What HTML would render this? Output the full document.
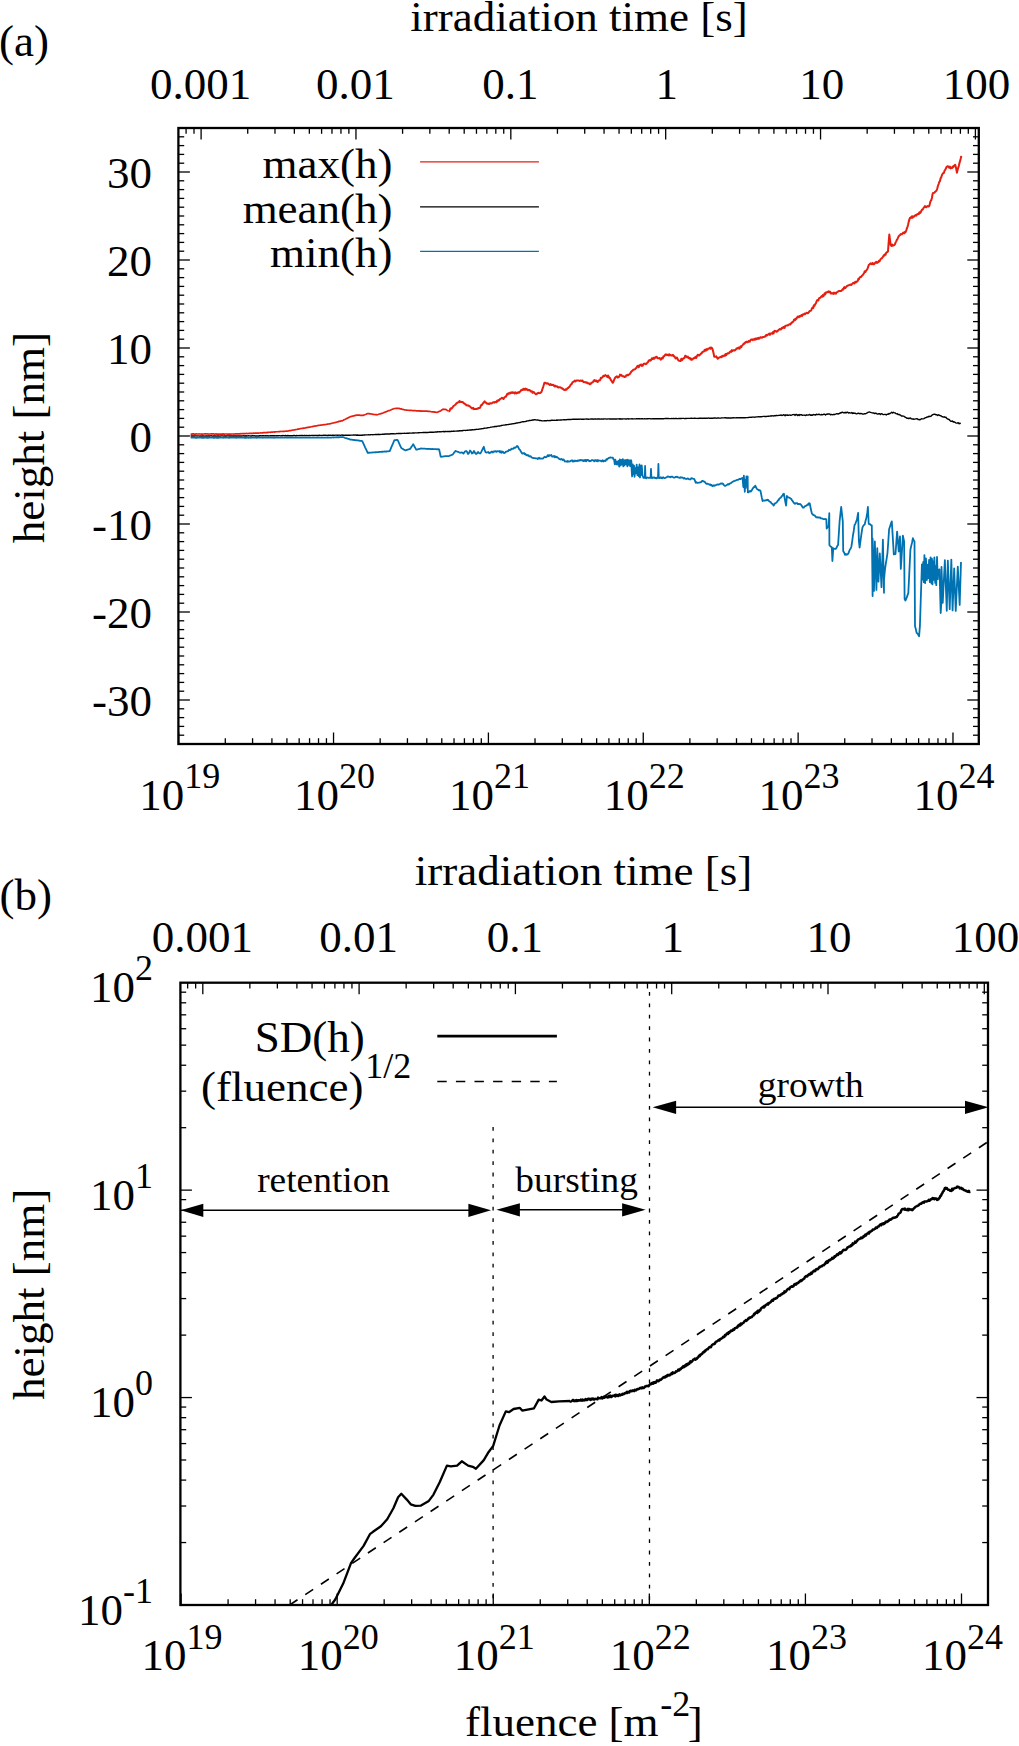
<!DOCTYPE html><html><head><meta charset="utf-8"><style>html,body{margin:0;padding:0;background:#fff;width:1019px;height:1746px;overflow:hidden}svg{display:block}</style></head><body><svg width="1019" height="1746" viewBox="0 0 1019 1746" font-family="'Liberation Serif', serif">
<rect width="1019" height="1746" fill="#fff"/>
<line x1="178.68" y1="744.00" x2="178.68" y2="732.50" stroke="#000" stroke-width="1.3" />
<line x1="225.30" y1="744.00" x2="225.30" y2="738.20" stroke="#000" stroke-width="1.3" />
<line x1="252.57" y1="744.00" x2="252.57" y2="738.20" stroke="#000" stroke-width="1.3" />
<line x1="271.92" y1="744.00" x2="271.92" y2="738.20" stroke="#000" stroke-width="1.3" />
<line x1="286.92" y1="744.00" x2="286.92" y2="738.20" stroke="#000" stroke-width="1.3" />
<line x1="299.18" y1="744.00" x2="299.18" y2="738.20" stroke="#000" stroke-width="1.3" />
<line x1="309.55" y1="744.00" x2="309.55" y2="738.20" stroke="#000" stroke-width="1.3" />
<line x1="318.53" y1="744.00" x2="318.53" y2="738.20" stroke="#000" stroke-width="1.3" />
<line x1="326.45" y1="744.00" x2="326.45" y2="738.20" stroke="#000" stroke-width="1.3" />
<line x1="333.54" y1="744.00" x2="333.54" y2="732.50" stroke="#000" stroke-width="1.3" />
<line x1="380.16" y1="744.00" x2="380.16" y2="738.20" stroke="#000" stroke-width="1.3" />
<line x1="407.43" y1="744.00" x2="407.43" y2="738.20" stroke="#000" stroke-width="1.3" />
<line x1="426.78" y1="744.00" x2="426.78" y2="738.20" stroke="#000" stroke-width="1.3" />
<line x1="441.78" y1="744.00" x2="441.78" y2="738.20" stroke="#000" stroke-width="1.3" />
<line x1="454.04" y1="744.00" x2="454.04" y2="738.20" stroke="#000" stroke-width="1.3" />
<line x1="464.41" y1="744.00" x2="464.41" y2="738.20" stroke="#000" stroke-width="1.3" />
<line x1="473.39" y1="744.00" x2="473.39" y2="738.20" stroke="#000" stroke-width="1.3" />
<line x1="481.31" y1="744.00" x2="481.31" y2="738.20" stroke="#000" stroke-width="1.3" />
<line x1="488.40" y1="744.00" x2="488.40" y2="732.50" stroke="#000" stroke-width="1.3" />
<line x1="535.02" y1="744.00" x2="535.02" y2="738.20" stroke="#000" stroke-width="1.3" />
<line x1="562.29" y1="744.00" x2="562.29" y2="738.20" stroke="#000" stroke-width="1.3" />
<line x1="581.64" y1="744.00" x2="581.64" y2="738.20" stroke="#000" stroke-width="1.3" />
<line x1="596.64" y1="744.00" x2="596.64" y2="738.20" stroke="#000" stroke-width="1.3" />
<line x1="608.90" y1="744.00" x2="608.90" y2="738.20" stroke="#000" stroke-width="1.3" />
<line x1="619.27" y1="744.00" x2="619.27" y2="738.20" stroke="#000" stroke-width="1.3" />
<line x1="628.25" y1="744.00" x2="628.25" y2="738.20" stroke="#000" stroke-width="1.3" />
<line x1="636.17" y1="744.00" x2="636.17" y2="738.20" stroke="#000" stroke-width="1.3" />
<line x1="643.26" y1="744.00" x2="643.26" y2="732.50" stroke="#000" stroke-width="1.3" />
<line x1="689.88" y1="744.00" x2="689.88" y2="738.20" stroke="#000" stroke-width="1.3" />
<line x1="717.15" y1="744.00" x2="717.15" y2="738.20" stroke="#000" stroke-width="1.3" />
<line x1="736.50" y1="744.00" x2="736.50" y2="738.20" stroke="#000" stroke-width="1.3" />
<line x1="751.50" y1="744.00" x2="751.50" y2="738.20" stroke="#000" stroke-width="1.3" />
<line x1="763.76" y1="744.00" x2="763.76" y2="738.20" stroke="#000" stroke-width="1.3" />
<line x1="774.13" y1="744.00" x2="774.13" y2="738.20" stroke="#000" stroke-width="1.3" />
<line x1="783.11" y1="744.00" x2="783.11" y2="738.20" stroke="#000" stroke-width="1.3" />
<line x1="791.03" y1="744.00" x2="791.03" y2="738.20" stroke="#000" stroke-width="1.3" />
<line x1="798.12" y1="744.00" x2="798.12" y2="732.50" stroke="#000" stroke-width="1.3" />
<line x1="844.74" y1="744.00" x2="844.74" y2="738.20" stroke="#000" stroke-width="1.3" />
<line x1="872.01" y1="744.00" x2="872.01" y2="738.20" stroke="#000" stroke-width="1.3" />
<line x1="891.36" y1="744.00" x2="891.36" y2="738.20" stroke="#000" stroke-width="1.3" />
<line x1="906.36" y1="744.00" x2="906.36" y2="738.20" stroke="#000" stroke-width="1.3" />
<line x1="918.62" y1="744.00" x2="918.62" y2="738.20" stroke="#000" stroke-width="1.3" />
<line x1="928.99" y1="744.00" x2="928.99" y2="738.20" stroke="#000" stroke-width="1.3" />
<line x1="937.97" y1="744.00" x2="937.97" y2="738.20" stroke="#000" stroke-width="1.3" />
<line x1="945.89" y1="744.00" x2="945.89" y2="738.20" stroke="#000" stroke-width="1.3" />
<line x1="952.98" y1="744.00" x2="952.98" y2="732.50" stroke="#000" stroke-width="1.3" />
<line x1="186.09" y1="128.00" x2="186.09" y2="133.80" stroke="#000" stroke-width="1.3" />
<line x1="194.01" y1="128.00" x2="194.01" y2="133.80" stroke="#000" stroke-width="1.3" />
<line x1="201.10" y1="128.00" x2="201.10" y2="139.50" stroke="#000" stroke-width="1.3" />
<line x1="247.72" y1="128.00" x2="247.72" y2="133.80" stroke="#000" stroke-width="1.3" />
<line x1="274.99" y1="128.00" x2="274.99" y2="133.80" stroke="#000" stroke-width="1.3" />
<line x1="294.34" y1="128.00" x2="294.34" y2="133.80" stroke="#000" stroke-width="1.3" />
<line x1="309.34" y1="128.00" x2="309.34" y2="133.80" stroke="#000" stroke-width="1.3" />
<line x1="321.60" y1="128.00" x2="321.60" y2="133.80" stroke="#000" stroke-width="1.3" />
<line x1="331.97" y1="128.00" x2="331.97" y2="133.80" stroke="#000" stroke-width="1.3" />
<line x1="340.95" y1="128.00" x2="340.95" y2="133.80" stroke="#000" stroke-width="1.3" />
<line x1="348.87" y1="128.00" x2="348.87" y2="133.80" stroke="#000" stroke-width="1.3" />
<line x1="355.96" y1="128.00" x2="355.96" y2="139.50" stroke="#000" stroke-width="1.3" />
<line x1="402.58" y1="128.00" x2="402.58" y2="133.80" stroke="#000" stroke-width="1.3" />
<line x1="429.85" y1="128.00" x2="429.85" y2="133.80" stroke="#000" stroke-width="1.3" />
<line x1="449.20" y1="128.00" x2="449.20" y2="133.80" stroke="#000" stroke-width="1.3" />
<line x1="464.20" y1="128.00" x2="464.20" y2="133.80" stroke="#000" stroke-width="1.3" />
<line x1="476.46" y1="128.00" x2="476.46" y2="133.80" stroke="#000" stroke-width="1.3" />
<line x1="486.83" y1="128.00" x2="486.83" y2="133.80" stroke="#000" stroke-width="1.3" />
<line x1="495.81" y1="128.00" x2="495.81" y2="133.80" stroke="#000" stroke-width="1.3" />
<line x1="503.73" y1="128.00" x2="503.73" y2="133.80" stroke="#000" stroke-width="1.3" />
<line x1="510.82" y1="128.00" x2="510.82" y2="139.50" stroke="#000" stroke-width="1.3" />
<line x1="557.44" y1="128.00" x2="557.44" y2="133.80" stroke="#000" stroke-width="1.3" />
<line x1="584.71" y1="128.00" x2="584.71" y2="133.80" stroke="#000" stroke-width="1.3" />
<line x1="604.06" y1="128.00" x2="604.06" y2="133.80" stroke="#000" stroke-width="1.3" />
<line x1="619.06" y1="128.00" x2="619.06" y2="133.80" stroke="#000" stroke-width="1.3" />
<line x1="631.32" y1="128.00" x2="631.32" y2="133.80" stroke="#000" stroke-width="1.3" />
<line x1="641.69" y1="128.00" x2="641.69" y2="133.80" stroke="#000" stroke-width="1.3" />
<line x1="650.67" y1="128.00" x2="650.67" y2="133.80" stroke="#000" stroke-width="1.3" />
<line x1="658.59" y1="128.00" x2="658.59" y2="133.80" stroke="#000" stroke-width="1.3" />
<line x1="665.68" y1="128.00" x2="665.68" y2="139.50" stroke="#000" stroke-width="1.3" />
<line x1="712.30" y1="128.00" x2="712.30" y2="133.80" stroke="#000" stroke-width="1.3" />
<line x1="739.57" y1="128.00" x2="739.57" y2="133.80" stroke="#000" stroke-width="1.3" />
<line x1="758.92" y1="128.00" x2="758.92" y2="133.80" stroke="#000" stroke-width="1.3" />
<line x1="773.92" y1="128.00" x2="773.92" y2="133.80" stroke="#000" stroke-width="1.3" />
<line x1="786.18" y1="128.00" x2="786.18" y2="133.80" stroke="#000" stroke-width="1.3" />
<line x1="796.55" y1="128.00" x2="796.55" y2="133.80" stroke="#000" stroke-width="1.3" />
<line x1="805.53" y1="128.00" x2="805.53" y2="133.80" stroke="#000" stroke-width="1.3" />
<line x1="813.45" y1="128.00" x2="813.45" y2="133.80" stroke="#000" stroke-width="1.3" />
<line x1="820.54" y1="128.00" x2="820.54" y2="139.50" stroke="#000" stroke-width="1.3" />
<line x1="867.16" y1="128.00" x2="867.16" y2="133.80" stroke="#000" stroke-width="1.3" />
<line x1="894.43" y1="128.00" x2="894.43" y2="133.80" stroke="#000" stroke-width="1.3" />
<line x1="913.78" y1="128.00" x2="913.78" y2="133.80" stroke="#000" stroke-width="1.3" />
<line x1="928.78" y1="128.00" x2="928.78" y2="133.80" stroke="#000" stroke-width="1.3" />
<line x1="941.04" y1="128.00" x2="941.04" y2="133.80" stroke="#000" stroke-width="1.3" />
<line x1="951.41" y1="128.00" x2="951.41" y2="133.80" stroke="#000" stroke-width="1.3" />
<line x1="960.39" y1="128.00" x2="960.39" y2="133.80" stroke="#000" stroke-width="1.3" />
<line x1="968.31" y1="128.00" x2="968.31" y2="133.80" stroke="#000" stroke-width="1.3" />
<line x1="975.40" y1="128.00" x2="975.40" y2="139.50" stroke="#000" stroke-width="1.3" />
<line x1="178.40" y1="735.20" x2="184.20" y2="735.20" stroke="#000" stroke-width="1.3" />
<line x1="978.80" y1="735.20" x2="973.00" y2="735.20" stroke="#000" stroke-width="1.3" />
<line x1="178.40" y1="726.40" x2="184.20" y2="726.40" stroke="#000" stroke-width="1.3" />
<line x1="978.80" y1="726.40" x2="973.00" y2="726.40" stroke="#000" stroke-width="1.3" />
<line x1="178.40" y1="717.60" x2="184.20" y2="717.60" stroke="#000" stroke-width="1.3" />
<line x1="978.80" y1="717.60" x2="973.00" y2="717.60" stroke="#000" stroke-width="1.3" />
<line x1="178.40" y1="708.80" x2="184.20" y2="708.80" stroke="#000" stroke-width="1.3" />
<line x1="978.80" y1="708.80" x2="973.00" y2="708.80" stroke="#000" stroke-width="1.3" />
<line x1="178.40" y1="700.00" x2="189.90" y2="700.00" stroke="#000" stroke-width="1.3" />
<line x1="978.80" y1="700.00" x2="967.30" y2="700.00" stroke="#000" stroke-width="1.3" />
<line x1="178.40" y1="691.20" x2="184.20" y2="691.20" stroke="#000" stroke-width="1.3" />
<line x1="978.80" y1="691.20" x2="973.00" y2="691.20" stroke="#000" stroke-width="1.3" />
<line x1="178.40" y1="682.40" x2="184.20" y2="682.40" stroke="#000" stroke-width="1.3" />
<line x1="978.80" y1="682.40" x2="973.00" y2="682.40" stroke="#000" stroke-width="1.3" />
<line x1="178.40" y1="673.60" x2="184.20" y2="673.60" stroke="#000" stroke-width="1.3" />
<line x1="978.80" y1="673.60" x2="973.00" y2="673.60" stroke="#000" stroke-width="1.3" />
<line x1="178.40" y1="664.80" x2="184.20" y2="664.80" stroke="#000" stroke-width="1.3" />
<line x1="978.80" y1="664.80" x2="973.00" y2="664.80" stroke="#000" stroke-width="1.3" />
<line x1="178.40" y1="656.00" x2="184.20" y2="656.00" stroke="#000" stroke-width="1.3" />
<line x1="978.80" y1="656.00" x2="973.00" y2="656.00" stroke="#000" stroke-width="1.3" />
<line x1="178.40" y1="647.20" x2="184.20" y2="647.20" stroke="#000" stroke-width="1.3" />
<line x1="978.80" y1="647.20" x2="973.00" y2="647.20" stroke="#000" stroke-width="1.3" />
<line x1="178.40" y1="638.40" x2="184.20" y2="638.40" stroke="#000" stroke-width="1.3" />
<line x1="978.80" y1="638.40" x2="973.00" y2="638.40" stroke="#000" stroke-width="1.3" />
<line x1="178.40" y1="629.60" x2="184.20" y2="629.60" stroke="#000" stroke-width="1.3" />
<line x1="978.80" y1="629.60" x2="973.00" y2="629.60" stroke="#000" stroke-width="1.3" />
<line x1="178.40" y1="620.80" x2="184.20" y2="620.80" stroke="#000" stroke-width="1.3" />
<line x1="978.80" y1="620.80" x2="973.00" y2="620.80" stroke="#000" stroke-width="1.3" />
<line x1="178.40" y1="612.00" x2="189.90" y2="612.00" stroke="#000" stroke-width="1.3" />
<line x1="978.80" y1="612.00" x2="967.30" y2="612.00" stroke="#000" stroke-width="1.3" />
<line x1="178.40" y1="603.20" x2="184.20" y2="603.20" stroke="#000" stroke-width="1.3" />
<line x1="978.80" y1="603.20" x2="973.00" y2="603.20" stroke="#000" stroke-width="1.3" />
<line x1="178.40" y1="594.40" x2="184.20" y2="594.40" stroke="#000" stroke-width="1.3" />
<line x1="978.80" y1="594.40" x2="973.00" y2="594.40" stroke="#000" stroke-width="1.3" />
<line x1="178.40" y1="585.60" x2="184.20" y2="585.60" stroke="#000" stroke-width="1.3" />
<line x1="978.80" y1="585.60" x2="973.00" y2="585.60" stroke="#000" stroke-width="1.3" />
<line x1="178.40" y1="576.80" x2="184.20" y2="576.80" stroke="#000" stroke-width="1.3" />
<line x1="978.80" y1="576.80" x2="973.00" y2="576.80" stroke="#000" stroke-width="1.3" />
<line x1="178.40" y1="568.00" x2="184.20" y2="568.00" stroke="#000" stroke-width="1.3" />
<line x1="978.80" y1="568.00" x2="973.00" y2="568.00" stroke="#000" stroke-width="1.3" />
<line x1="178.40" y1="559.20" x2="184.20" y2="559.20" stroke="#000" stroke-width="1.3" />
<line x1="978.80" y1="559.20" x2="973.00" y2="559.20" stroke="#000" stroke-width="1.3" />
<line x1="178.40" y1="550.40" x2="184.20" y2="550.40" stroke="#000" stroke-width="1.3" />
<line x1="978.80" y1="550.40" x2="973.00" y2="550.40" stroke="#000" stroke-width="1.3" />
<line x1="178.40" y1="541.60" x2="184.20" y2="541.60" stroke="#000" stroke-width="1.3" />
<line x1="978.80" y1="541.60" x2="973.00" y2="541.60" stroke="#000" stroke-width="1.3" />
<line x1="178.40" y1="532.80" x2="184.20" y2="532.80" stroke="#000" stroke-width="1.3" />
<line x1="978.80" y1="532.80" x2="973.00" y2="532.80" stroke="#000" stroke-width="1.3" />
<line x1="178.40" y1="524.00" x2="189.90" y2="524.00" stroke="#000" stroke-width="1.3" />
<line x1="978.80" y1="524.00" x2="967.30" y2="524.00" stroke="#000" stroke-width="1.3" />
<line x1="178.40" y1="515.20" x2="184.20" y2="515.20" stroke="#000" stroke-width="1.3" />
<line x1="978.80" y1="515.20" x2="973.00" y2="515.20" stroke="#000" stroke-width="1.3" />
<line x1="178.40" y1="506.40" x2="184.20" y2="506.40" stroke="#000" stroke-width="1.3" />
<line x1="978.80" y1="506.40" x2="973.00" y2="506.40" stroke="#000" stroke-width="1.3" />
<line x1="178.40" y1="497.60" x2="184.20" y2="497.60" stroke="#000" stroke-width="1.3" />
<line x1="978.80" y1="497.60" x2="973.00" y2="497.60" stroke="#000" stroke-width="1.3" />
<line x1="178.40" y1="488.80" x2="184.20" y2="488.80" stroke="#000" stroke-width="1.3" />
<line x1="978.80" y1="488.80" x2="973.00" y2="488.80" stroke="#000" stroke-width="1.3" />
<line x1="178.40" y1="480.00" x2="184.20" y2="480.00" stroke="#000" stroke-width="1.3" />
<line x1="978.80" y1="480.00" x2="973.00" y2="480.00" stroke="#000" stroke-width="1.3" />
<line x1="178.40" y1="471.20" x2="184.20" y2="471.20" stroke="#000" stroke-width="1.3" />
<line x1="978.80" y1="471.20" x2="973.00" y2="471.20" stroke="#000" stroke-width="1.3" />
<line x1="178.40" y1="462.40" x2="184.20" y2="462.40" stroke="#000" stroke-width="1.3" />
<line x1="978.80" y1="462.40" x2="973.00" y2="462.40" stroke="#000" stroke-width="1.3" />
<line x1="178.40" y1="453.60" x2="184.20" y2="453.60" stroke="#000" stroke-width="1.3" />
<line x1="978.80" y1="453.60" x2="973.00" y2="453.60" stroke="#000" stroke-width="1.3" />
<line x1="178.40" y1="444.80" x2="184.20" y2="444.80" stroke="#000" stroke-width="1.3" />
<line x1="978.80" y1="444.80" x2="973.00" y2="444.80" stroke="#000" stroke-width="1.3" />
<line x1="178.40" y1="436.00" x2="189.90" y2="436.00" stroke="#000" stroke-width="1.3" />
<line x1="978.80" y1="436.00" x2="967.30" y2="436.00" stroke="#000" stroke-width="1.3" />
<line x1="178.40" y1="427.20" x2="184.20" y2="427.20" stroke="#000" stroke-width="1.3" />
<line x1="978.80" y1="427.20" x2="973.00" y2="427.20" stroke="#000" stroke-width="1.3" />
<line x1="178.40" y1="418.40" x2="184.20" y2="418.40" stroke="#000" stroke-width="1.3" />
<line x1="978.80" y1="418.40" x2="973.00" y2="418.40" stroke="#000" stroke-width="1.3" />
<line x1="178.40" y1="409.60" x2="184.20" y2="409.60" stroke="#000" stroke-width="1.3" />
<line x1="978.80" y1="409.60" x2="973.00" y2="409.60" stroke="#000" stroke-width="1.3" />
<line x1="178.40" y1="400.80" x2="184.20" y2="400.80" stroke="#000" stroke-width="1.3" />
<line x1="978.80" y1="400.80" x2="973.00" y2="400.80" stroke="#000" stroke-width="1.3" />
<line x1="178.40" y1="392.00" x2="184.20" y2="392.00" stroke="#000" stroke-width="1.3" />
<line x1="978.80" y1="392.00" x2="973.00" y2="392.00" stroke="#000" stroke-width="1.3" />
<line x1="178.40" y1="383.20" x2="184.20" y2="383.20" stroke="#000" stroke-width="1.3" />
<line x1="978.80" y1="383.20" x2="973.00" y2="383.20" stroke="#000" stroke-width="1.3" />
<line x1="178.40" y1="374.40" x2="184.20" y2="374.40" stroke="#000" stroke-width="1.3" />
<line x1="978.80" y1="374.40" x2="973.00" y2="374.40" stroke="#000" stroke-width="1.3" />
<line x1="178.40" y1="365.60" x2="184.20" y2="365.60" stroke="#000" stroke-width="1.3" />
<line x1="978.80" y1="365.60" x2="973.00" y2="365.60" stroke="#000" stroke-width="1.3" />
<line x1="178.40" y1="356.80" x2="184.20" y2="356.80" stroke="#000" stroke-width="1.3" />
<line x1="978.80" y1="356.80" x2="973.00" y2="356.80" stroke="#000" stroke-width="1.3" />
<line x1="178.40" y1="348.00" x2="189.90" y2="348.00" stroke="#000" stroke-width="1.3" />
<line x1="978.80" y1="348.00" x2="967.30" y2="348.00" stroke="#000" stroke-width="1.3" />
<line x1="178.40" y1="339.20" x2="184.20" y2="339.20" stroke="#000" stroke-width="1.3" />
<line x1="978.80" y1="339.20" x2="973.00" y2="339.20" stroke="#000" stroke-width="1.3" />
<line x1="178.40" y1="330.40" x2="184.20" y2="330.40" stroke="#000" stroke-width="1.3" />
<line x1="978.80" y1="330.40" x2="973.00" y2="330.40" stroke="#000" stroke-width="1.3" />
<line x1="178.40" y1="321.60" x2="184.20" y2="321.60" stroke="#000" stroke-width="1.3" />
<line x1="978.80" y1="321.60" x2="973.00" y2="321.60" stroke="#000" stroke-width="1.3" />
<line x1="178.40" y1="312.80" x2="184.20" y2="312.80" stroke="#000" stroke-width="1.3" />
<line x1="978.80" y1="312.80" x2="973.00" y2="312.80" stroke="#000" stroke-width="1.3" />
<line x1="178.40" y1="304.00" x2="184.20" y2="304.00" stroke="#000" stroke-width="1.3" />
<line x1="978.80" y1="304.00" x2="973.00" y2="304.00" stroke="#000" stroke-width="1.3" />
<line x1="178.40" y1="295.20" x2="184.20" y2="295.20" stroke="#000" stroke-width="1.3" />
<line x1="978.80" y1="295.20" x2="973.00" y2="295.20" stroke="#000" stroke-width="1.3" />
<line x1="178.40" y1="286.40" x2="184.20" y2="286.40" stroke="#000" stroke-width="1.3" />
<line x1="978.80" y1="286.40" x2="973.00" y2="286.40" stroke="#000" stroke-width="1.3" />
<line x1="178.40" y1="277.60" x2="184.20" y2="277.60" stroke="#000" stroke-width="1.3" />
<line x1="978.80" y1="277.60" x2="973.00" y2="277.60" stroke="#000" stroke-width="1.3" />
<line x1="178.40" y1="268.80" x2="184.20" y2="268.80" stroke="#000" stroke-width="1.3" />
<line x1="978.80" y1="268.80" x2="973.00" y2="268.80" stroke="#000" stroke-width="1.3" />
<line x1="178.40" y1="260.00" x2="189.90" y2="260.00" stroke="#000" stroke-width="1.3" />
<line x1="978.80" y1="260.00" x2="967.30" y2="260.00" stroke="#000" stroke-width="1.3" />
<line x1="178.40" y1="251.20" x2="184.20" y2="251.20" stroke="#000" stroke-width="1.3" />
<line x1="978.80" y1="251.20" x2="973.00" y2="251.20" stroke="#000" stroke-width="1.3" />
<line x1="178.40" y1="242.40" x2="184.20" y2="242.40" stroke="#000" stroke-width="1.3" />
<line x1="978.80" y1="242.40" x2="973.00" y2="242.40" stroke="#000" stroke-width="1.3" />
<line x1="178.40" y1="233.60" x2="184.20" y2="233.60" stroke="#000" stroke-width="1.3" />
<line x1="978.80" y1="233.60" x2="973.00" y2="233.60" stroke="#000" stroke-width="1.3" />
<line x1="178.40" y1="224.80" x2="184.20" y2="224.80" stroke="#000" stroke-width="1.3" />
<line x1="978.80" y1="224.80" x2="973.00" y2="224.80" stroke="#000" stroke-width="1.3" />
<line x1="178.40" y1="216.00" x2="184.20" y2="216.00" stroke="#000" stroke-width="1.3" />
<line x1="978.80" y1="216.00" x2="973.00" y2="216.00" stroke="#000" stroke-width="1.3" />
<line x1="178.40" y1="207.20" x2="184.20" y2="207.20" stroke="#000" stroke-width="1.3" />
<line x1="978.80" y1="207.20" x2="973.00" y2="207.20" stroke="#000" stroke-width="1.3" />
<line x1="178.40" y1="198.40" x2="184.20" y2="198.40" stroke="#000" stroke-width="1.3" />
<line x1="978.80" y1="198.40" x2="973.00" y2="198.40" stroke="#000" stroke-width="1.3" />
<line x1="178.40" y1="189.60" x2="184.20" y2="189.60" stroke="#000" stroke-width="1.3" />
<line x1="978.80" y1="189.60" x2="973.00" y2="189.60" stroke="#000" stroke-width="1.3" />
<line x1="178.40" y1="180.80" x2="184.20" y2="180.80" stroke="#000" stroke-width="1.3" />
<line x1="978.80" y1="180.80" x2="973.00" y2="180.80" stroke="#000" stroke-width="1.3" />
<line x1="178.40" y1="172.00" x2="189.90" y2="172.00" stroke="#000" stroke-width="1.3" />
<line x1="978.80" y1="172.00" x2="967.30" y2="172.00" stroke="#000" stroke-width="1.3" />
<line x1="178.40" y1="163.20" x2="184.20" y2="163.20" stroke="#000" stroke-width="1.3" />
<line x1="978.80" y1="163.20" x2="973.00" y2="163.20" stroke="#000" stroke-width="1.3" />
<line x1="178.40" y1="154.40" x2="184.20" y2="154.40" stroke="#000" stroke-width="1.3" />
<line x1="978.80" y1="154.40" x2="973.00" y2="154.40" stroke="#000" stroke-width="1.3" />
<line x1="178.40" y1="145.60" x2="184.20" y2="145.60" stroke="#000" stroke-width="1.3" />
<line x1="978.80" y1="145.60" x2="973.00" y2="145.60" stroke="#000" stroke-width="1.3" />
<line x1="178.40" y1="136.80" x2="184.20" y2="136.80" stroke="#000" stroke-width="1.3" />
<line x1="978.80" y1="136.80" x2="973.00" y2="136.80" stroke="#000" stroke-width="1.3" />
<line x1="181.10" y1="1605.00" x2="181.10" y2="1593.50" stroke="#000" stroke-width="1.3" />
<line x1="228.08" y1="1605.00" x2="228.08" y2="1599.20" stroke="#000" stroke-width="1.3" />
<line x1="255.57" y1="1605.00" x2="255.57" y2="1599.20" stroke="#000" stroke-width="1.3" />
<line x1="275.07" y1="1605.00" x2="275.07" y2="1599.20" stroke="#000" stroke-width="1.3" />
<line x1="290.20" y1="1605.00" x2="290.20" y2="1599.20" stroke="#000" stroke-width="1.3" />
<line x1="302.55" y1="1605.00" x2="302.55" y2="1599.20" stroke="#000" stroke-width="1.3" />
<line x1="313.00" y1="1605.00" x2="313.00" y2="1599.20" stroke="#000" stroke-width="1.3" />
<line x1="322.05" y1="1605.00" x2="322.05" y2="1599.20" stroke="#000" stroke-width="1.3" />
<line x1="330.04" y1="1605.00" x2="330.04" y2="1599.20" stroke="#000" stroke-width="1.3" />
<line x1="337.18" y1="1605.00" x2="337.18" y2="1593.50" stroke="#000" stroke-width="1.3" />
<line x1="384.16" y1="1605.00" x2="384.16" y2="1599.20" stroke="#000" stroke-width="1.3" />
<line x1="411.65" y1="1605.00" x2="411.65" y2="1599.20" stroke="#000" stroke-width="1.3" />
<line x1="431.15" y1="1605.00" x2="431.15" y2="1599.20" stroke="#000" stroke-width="1.3" />
<line x1="446.28" y1="1605.00" x2="446.28" y2="1599.20" stroke="#000" stroke-width="1.3" />
<line x1="458.63" y1="1605.00" x2="458.63" y2="1599.20" stroke="#000" stroke-width="1.3" />
<line x1="469.08" y1="1605.00" x2="469.08" y2="1599.20" stroke="#000" stroke-width="1.3" />
<line x1="478.13" y1="1605.00" x2="478.13" y2="1599.20" stroke="#000" stroke-width="1.3" />
<line x1="486.12" y1="1605.00" x2="486.12" y2="1599.20" stroke="#000" stroke-width="1.3" />
<line x1="493.26" y1="1605.00" x2="493.26" y2="1593.50" stroke="#000" stroke-width="1.3" />
<line x1="540.24" y1="1605.00" x2="540.24" y2="1599.20" stroke="#000" stroke-width="1.3" />
<line x1="567.73" y1="1605.00" x2="567.73" y2="1599.20" stroke="#000" stroke-width="1.3" />
<line x1="587.23" y1="1605.00" x2="587.23" y2="1599.20" stroke="#000" stroke-width="1.3" />
<line x1="602.36" y1="1605.00" x2="602.36" y2="1599.20" stroke="#000" stroke-width="1.3" />
<line x1="614.71" y1="1605.00" x2="614.71" y2="1599.20" stroke="#000" stroke-width="1.3" />
<line x1="625.16" y1="1605.00" x2="625.16" y2="1599.20" stroke="#000" stroke-width="1.3" />
<line x1="634.21" y1="1605.00" x2="634.21" y2="1599.20" stroke="#000" stroke-width="1.3" />
<line x1="642.20" y1="1605.00" x2="642.20" y2="1599.20" stroke="#000" stroke-width="1.3" />
<line x1="649.34" y1="1605.00" x2="649.34" y2="1593.50" stroke="#000" stroke-width="1.3" />
<line x1="696.32" y1="1605.00" x2="696.32" y2="1599.20" stroke="#000" stroke-width="1.3" />
<line x1="723.81" y1="1605.00" x2="723.81" y2="1599.20" stroke="#000" stroke-width="1.3" />
<line x1="743.31" y1="1605.00" x2="743.31" y2="1599.20" stroke="#000" stroke-width="1.3" />
<line x1="758.44" y1="1605.00" x2="758.44" y2="1599.20" stroke="#000" stroke-width="1.3" />
<line x1="770.79" y1="1605.00" x2="770.79" y2="1599.20" stroke="#000" stroke-width="1.3" />
<line x1="781.24" y1="1605.00" x2="781.24" y2="1599.20" stroke="#000" stroke-width="1.3" />
<line x1="790.29" y1="1605.00" x2="790.29" y2="1599.20" stroke="#000" stroke-width="1.3" />
<line x1="798.28" y1="1605.00" x2="798.28" y2="1599.20" stroke="#000" stroke-width="1.3" />
<line x1="805.42" y1="1605.00" x2="805.42" y2="1593.50" stroke="#000" stroke-width="1.3" />
<line x1="852.40" y1="1605.00" x2="852.40" y2="1599.20" stroke="#000" stroke-width="1.3" />
<line x1="879.89" y1="1605.00" x2="879.89" y2="1599.20" stroke="#000" stroke-width="1.3" />
<line x1="899.39" y1="1605.00" x2="899.39" y2="1599.20" stroke="#000" stroke-width="1.3" />
<line x1="914.52" y1="1605.00" x2="914.52" y2="1599.20" stroke="#000" stroke-width="1.3" />
<line x1="926.87" y1="1605.00" x2="926.87" y2="1599.20" stroke="#000" stroke-width="1.3" />
<line x1="937.32" y1="1605.00" x2="937.32" y2="1599.20" stroke="#000" stroke-width="1.3" />
<line x1="946.37" y1="1605.00" x2="946.37" y2="1599.20" stroke="#000" stroke-width="1.3" />
<line x1="954.36" y1="1605.00" x2="954.36" y2="1599.20" stroke="#000" stroke-width="1.3" />
<line x1="961.50" y1="1605.00" x2="961.50" y2="1593.50" stroke="#000" stroke-width="1.3" />
<line x1="187.65" y1="982.70" x2="187.65" y2="988.50" stroke="#000" stroke-width="1.3" />
<line x1="195.65" y1="982.70" x2="195.65" y2="988.50" stroke="#000" stroke-width="1.3" />
<line x1="202.80" y1="982.70" x2="202.80" y2="994.20" stroke="#000" stroke-width="1.3" />
<line x1="249.85" y1="982.70" x2="249.85" y2="988.50" stroke="#000" stroke-width="1.3" />
<line x1="277.37" y1="982.70" x2="277.37" y2="988.50" stroke="#000" stroke-width="1.3" />
<line x1="296.90" y1="982.70" x2="296.90" y2="988.50" stroke="#000" stroke-width="1.3" />
<line x1="312.05" y1="982.70" x2="312.05" y2="988.50" stroke="#000" stroke-width="1.3" />
<line x1="324.43" y1="982.70" x2="324.43" y2="988.50" stroke="#000" stroke-width="1.3" />
<line x1="334.89" y1="982.70" x2="334.89" y2="988.50" stroke="#000" stroke-width="1.3" />
<line x1="343.95" y1="982.70" x2="343.95" y2="988.50" stroke="#000" stroke-width="1.3" />
<line x1="351.95" y1="982.70" x2="351.95" y2="988.50" stroke="#000" stroke-width="1.3" />
<line x1="359.10" y1="982.70" x2="359.10" y2="994.20" stroke="#000" stroke-width="1.3" />
<line x1="406.15" y1="982.70" x2="406.15" y2="988.50" stroke="#000" stroke-width="1.3" />
<line x1="433.67" y1="982.70" x2="433.67" y2="988.50" stroke="#000" stroke-width="1.3" />
<line x1="453.20" y1="982.70" x2="453.20" y2="988.50" stroke="#000" stroke-width="1.3" />
<line x1="468.35" y1="982.70" x2="468.35" y2="988.50" stroke="#000" stroke-width="1.3" />
<line x1="480.73" y1="982.70" x2="480.73" y2="988.50" stroke="#000" stroke-width="1.3" />
<line x1="491.19" y1="982.70" x2="491.19" y2="988.50" stroke="#000" stroke-width="1.3" />
<line x1="500.25" y1="982.70" x2="500.25" y2="988.50" stroke="#000" stroke-width="1.3" />
<line x1="508.25" y1="982.70" x2="508.25" y2="988.50" stroke="#000" stroke-width="1.3" />
<line x1="515.40" y1="982.70" x2="515.40" y2="994.20" stroke="#000" stroke-width="1.3" />
<line x1="562.45" y1="982.70" x2="562.45" y2="988.50" stroke="#000" stroke-width="1.3" />
<line x1="589.97" y1="982.70" x2="589.97" y2="988.50" stroke="#000" stroke-width="1.3" />
<line x1="609.50" y1="982.70" x2="609.50" y2="988.50" stroke="#000" stroke-width="1.3" />
<line x1="624.65" y1="982.70" x2="624.65" y2="988.50" stroke="#000" stroke-width="1.3" />
<line x1="637.03" y1="982.70" x2="637.03" y2="988.50" stroke="#000" stroke-width="1.3" />
<line x1="647.49" y1="982.70" x2="647.49" y2="988.50" stroke="#000" stroke-width="1.3" />
<line x1="656.55" y1="982.70" x2="656.55" y2="988.50" stroke="#000" stroke-width="1.3" />
<line x1="664.55" y1="982.70" x2="664.55" y2="988.50" stroke="#000" stroke-width="1.3" />
<line x1="671.70" y1="982.70" x2="671.70" y2="994.20" stroke="#000" stroke-width="1.3" />
<line x1="718.75" y1="982.70" x2="718.75" y2="988.50" stroke="#000" stroke-width="1.3" />
<line x1="746.27" y1="982.70" x2="746.27" y2="988.50" stroke="#000" stroke-width="1.3" />
<line x1="765.80" y1="982.70" x2="765.80" y2="988.50" stroke="#000" stroke-width="1.3" />
<line x1="780.95" y1="982.70" x2="780.95" y2="988.50" stroke="#000" stroke-width="1.3" />
<line x1="793.33" y1="982.70" x2="793.33" y2="988.50" stroke="#000" stroke-width="1.3" />
<line x1="803.79" y1="982.70" x2="803.79" y2="988.50" stroke="#000" stroke-width="1.3" />
<line x1="812.85" y1="982.70" x2="812.85" y2="988.50" stroke="#000" stroke-width="1.3" />
<line x1="820.85" y1="982.70" x2="820.85" y2="988.50" stroke="#000" stroke-width="1.3" />
<line x1="828.00" y1="982.70" x2="828.00" y2="994.20" stroke="#000" stroke-width="1.3" />
<line x1="875.05" y1="982.70" x2="875.05" y2="988.50" stroke="#000" stroke-width="1.3" />
<line x1="902.57" y1="982.70" x2="902.57" y2="988.50" stroke="#000" stroke-width="1.3" />
<line x1="922.10" y1="982.70" x2="922.10" y2="988.50" stroke="#000" stroke-width="1.3" />
<line x1="937.25" y1="982.70" x2="937.25" y2="988.50" stroke="#000" stroke-width="1.3" />
<line x1="949.63" y1="982.70" x2="949.63" y2="988.50" stroke="#000" stroke-width="1.3" />
<line x1="960.09" y1="982.70" x2="960.09" y2="988.50" stroke="#000" stroke-width="1.3" />
<line x1="969.15" y1="982.70" x2="969.15" y2="988.50" stroke="#000" stroke-width="1.3" />
<line x1="977.15" y1="982.70" x2="977.15" y2="988.50" stroke="#000" stroke-width="1.3" />
<line x1="984.30" y1="982.70" x2="984.30" y2="994.20" stroke="#000" stroke-width="1.3" />
<line x1="180.40" y1="1542.55" x2="186.20" y2="1542.55" stroke="#000" stroke-width="1.3" />
<line x1="988.00" y1="1542.55" x2="982.20" y2="1542.55" stroke="#000" stroke-width="1.3" />
<line x1="180.40" y1="1506.02" x2="186.20" y2="1506.02" stroke="#000" stroke-width="1.3" />
<line x1="988.00" y1="1506.02" x2="982.20" y2="1506.02" stroke="#000" stroke-width="1.3" />
<line x1="180.40" y1="1480.10" x2="186.20" y2="1480.10" stroke="#000" stroke-width="1.3" />
<line x1="988.00" y1="1480.10" x2="982.20" y2="1480.10" stroke="#000" stroke-width="1.3" />
<line x1="180.40" y1="1460.00" x2="186.20" y2="1460.00" stroke="#000" stroke-width="1.3" />
<line x1="988.00" y1="1460.00" x2="982.20" y2="1460.00" stroke="#000" stroke-width="1.3" />
<line x1="180.40" y1="1443.58" x2="186.20" y2="1443.58" stroke="#000" stroke-width="1.3" />
<line x1="988.00" y1="1443.58" x2="982.20" y2="1443.58" stroke="#000" stroke-width="1.3" />
<line x1="180.40" y1="1429.69" x2="186.20" y2="1429.69" stroke="#000" stroke-width="1.3" />
<line x1="988.00" y1="1429.69" x2="982.20" y2="1429.69" stroke="#000" stroke-width="1.3" />
<line x1="180.40" y1="1417.66" x2="186.20" y2="1417.66" stroke="#000" stroke-width="1.3" />
<line x1="988.00" y1="1417.66" x2="982.20" y2="1417.66" stroke="#000" stroke-width="1.3" />
<line x1="180.40" y1="1407.05" x2="186.20" y2="1407.05" stroke="#000" stroke-width="1.3" />
<line x1="988.00" y1="1407.05" x2="982.20" y2="1407.05" stroke="#000" stroke-width="1.3" />
<line x1="180.40" y1="1397.56" x2="191.90" y2="1397.56" stroke="#000" stroke-width="1.3" />
<line x1="988.00" y1="1397.56" x2="976.50" y2="1397.56" stroke="#000" stroke-width="1.3" />
<line x1="180.40" y1="1335.12" x2="186.20" y2="1335.12" stroke="#000" stroke-width="1.3" />
<line x1="988.00" y1="1335.12" x2="982.20" y2="1335.12" stroke="#000" stroke-width="1.3" />
<line x1="180.40" y1="1298.59" x2="186.20" y2="1298.59" stroke="#000" stroke-width="1.3" />
<line x1="988.00" y1="1298.59" x2="982.20" y2="1298.59" stroke="#000" stroke-width="1.3" />
<line x1="180.40" y1="1272.67" x2="186.20" y2="1272.67" stroke="#000" stroke-width="1.3" />
<line x1="988.00" y1="1272.67" x2="982.20" y2="1272.67" stroke="#000" stroke-width="1.3" />
<line x1="180.40" y1="1252.57" x2="186.20" y2="1252.57" stroke="#000" stroke-width="1.3" />
<line x1="988.00" y1="1252.57" x2="982.20" y2="1252.57" stroke="#000" stroke-width="1.3" />
<line x1="180.40" y1="1236.15" x2="186.20" y2="1236.15" stroke="#000" stroke-width="1.3" />
<line x1="988.00" y1="1236.15" x2="982.20" y2="1236.15" stroke="#000" stroke-width="1.3" />
<line x1="180.40" y1="1222.26" x2="186.20" y2="1222.26" stroke="#000" stroke-width="1.3" />
<line x1="988.00" y1="1222.26" x2="982.20" y2="1222.26" stroke="#000" stroke-width="1.3" />
<line x1="180.40" y1="1210.23" x2="186.20" y2="1210.23" stroke="#000" stroke-width="1.3" />
<line x1="988.00" y1="1210.23" x2="982.20" y2="1210.23" stroke="#000" stroke-width="1.3" />
<line x1="180.40" y1="1199.62" x2="186.20" y2="1199.62" stroke="#000" stroke-width="1.3" />
<line x1="988.00" y1="1199.62" x2="982.20" y2="1199.62" stroke="#000" stroke-width="1.3" />
<line x1="180.40" y1="1190.13" x2="191.90" y2="1190.13" stroke="#000" stroke-width="1.3" />
<line x1="988.00" y1="1190.13" x2="976.50" y2="1190.13" stroke="#000" stroke-width="1.3" />
<line x1="180.40" y1="1127.69" x2="186.20" y2="1127.69" stroke="#000" stroke-width="1.3" />
<line x1="988.00" y1="1127.69" x2="982.20" y2="1127.69" stroke="#000" stroke-width="1.3" />
<line x1="180.40" y1="1091.16" x2="186.20" y2="1091.16" stroke="#000" stroke-width="1.3" />
<line x1="988.00" y1="1091.16" x2="982.20" y2="1091.16" stroke="#000" stroke-width="1.3" />
<line x1="180.40" y1="1065.24" x2="186.20" y2="1065.24" stroke="#000" stroke-width="1.3" />
<line x1="988.00" y1="1065.24" x2="982.20" y2="1065.24" stroke="#000" stroke-width="1.3" />
<line x1="180.40" y1="1045.14" x2="186.20" y2="1045.14" stroke="#000" stroke-width="1.3" />
<line x1="988.00" y1="1045.14" x2="982.20" y2="1045.14" stroke="#000" stroke-width="1.3" />
<line x1="180.40" y1="1028.72" x2="186.20" y2="1028.72" stroke="#000" stroke-width="1.3" />
<line x1="988.00" y1="1028.72" x2="982.20" y2="1028.72" stroke="#000" stroke-width="1.3" />
<line x1="180.40" y1="1014.83" x2="186.20" y2="1014.83" stroke="#000" stroke-width="1.3" />
<line x1="988.00" y1="1014.83" x2="982.20" y2="1014.83" stroke="#000" stroke-width="1.3" />
<line x1="180.40" y1="1002.80" x2="186.20" y2="1002.80" stroke="#000" stroke-width="1.3" />
<line x1="988.00" y1="1002.80" x2="982.20" y2="1002.80" stroke="#000" stroke-width="1.3" />
<line x1="180.40" y1="992.19" x2="186.20" y2="992.19" stroke="#000" stroke-width="1.3" />
<line x1="988.00" y1="992.19" x2="982.20" y2="992.19" stroke="#000" stroke-width="1.3" />
<path d="M190.60,434.00 L191.31,434.09 L192.01,434.09 L192.72,433.91 L193.43,433.92 L194.13,434.07 L194.84,434.05 L195.55,434.03 L196.25,433.96 L196.96,434.02 L197.67,434.02 L198.37,434.02 L199.08,433.93 L199.79,433.99 L200.49,433.98 L201.20,434.04 L201.91,434.10 L202.61,434.09 L203.32,434.01 L204.03,433.99 L204.73,433.95 L205.44,433.91 L206.15,433.91 L206.85,433.99 L207.56,433.96 L208.27,433.98 L208.97,434.08 L209.68,434.01 L210.39,434.01 L211.09,433.95 L211.80,433.90 L212.51,433.97 L213.21,433.93 L213.92,434.00 L214.63,434.10 L215.33,434.03 L216.04,433.94 L216.75,434.08 L217.45,434.06 L218.16,434.05 L218.87,434.08 L219.57,434.05 L220.28,434.06 L220.99,433.97 L221.69,434.10 L222.40,434.09 L223.11,433.93 L223.81,434.05 L224.52,434.04 L225.23,433.99 L225.93,434.01 L226.64,434.00 L227.35,434.08 L228.05,434.00 L228.76,434.07 L229.47,433.97 L230.17,434.08 L230.88,434.08 L231.59,433.99 L232.29,434.01 L233.00,434.00 L233.71,434.06 L234.42,433.99 L235.13,433.92 L235.84,433.84 L236.55,433.83 L237.26,433.88 L237.97,433.75 L238.68,433.87 L239.39,433.72 L240.11,433.82 L240.82,433.67 L241.53,433.78 L242.24,433.70 L242.95,433.63 L243.66,433.61 L244.37,433.61 L245.08,433.57 L245.79,433.49 L246.50,433.44 L247.21,433.48 L247.92,433.53 L248.63,433.45 L249.34,433.31 L250.05,433.43 L250.76,433.39 L251.47,433.40 L252.18,433.23 L252.89,433.31 L253.61,433.15 L254.32,433.24 L255.03,433.14 L255.74,433.10 L256.45,433.21 L257.16,433.03 L257.87,433.08 L258.58,433.12 L259.29,432.98 L260.00,433.00 L260.70,432.89 L261.40,432.98 L262.10,432.83 L262.80,432.84 L263.50,432.66 L264.20,432.67 L264.90,432.58 L265.60,432.63 L266.30,432.47 L267.00,432.59 L267.70,432.36 L268.40,432.45 L269.10,432.25 L269.80,432.25 L270.50,432.31 L271.20,432.13 L271.90,432.09 L272.60,432.14 L273.30,432.03 L274.00,431.91 L274.70,432.05 L275.40,431.83 L276.10,431.76 L276.80,431.77 L277.50,431.77 L278.20,431.75 L278.90,431.57 L279.60,431.57 L280.30,431.46 L281.00,431.49 L281.70,431.50 L282.40,431.45 L283.10,431.43 L283.80,431.35 L284.50,431.32 L285.20,431.24 L285.90,431.14 L286.60,431.05 L287.30,431.08 L288.00,431.00 L288.70,430.84 L289.41,430.67 L290.11,430.61 L290.82,430.57 L291.52,430.29 L292.23,430.25 L292.93,430.09 L293.64,429.98 L294.34,429.78 L295.05,429.82 L295.75,429.55 L296.45,429.49 L297.16,429.33 L297.86,429.12 L298.57,429.10 L299.27,428.89 L299.98,428.75 L300.68,428.62 L301.39,428.51 L302.09,428.37 L302.80,428.35 L303.50,428.20 L304.20,428.17 L304.91,428.03 L305.61,427.92 L306.32,427.64 L307.02,427.55 L307.73,427.39 L308.43,427.33 L309.14,427.21 L309.84,427.11 L310.55,426.97 L311.25,426.75 L311.95,426.66 L312.66,426.55 L313.36,426.32 L314.07,426.20 L314.77,426.15 L315.48,425.96 L316.18,425.95 L316.89,425.73 L317.59,425.57 L318.30,425.46 L319.00,425.40 L319.73,425.24 L320.47,425.13 L321.20,425.08 L321.93,424.97 L322.67,424.83 L323.40,424.79 L324.13,424.60 L324.87,424.63 L325.60,424.53 L326.33,424.38 L327.07,424.21 L327.80,424.12 L328.53,424.03 L329.27,423.82 L330.00,423.80 L330.70,423.61 L331.40,423.45 L332.10,423.20 L332.80,423.01 L333.50,422.97 L334.20,422.71 L334.90,422.56 L335.60,422.46 L336.30,422.22 L337.00,421.98 L337.70,421.94 L338.40,421.64 L339.10,421.39 L339.80,421.35 L340.50,421.05 L341.20,420.92 L341.90,420.85 L342.60,420.60 L343.31,420.28 L344.02,419.79 L344.73,419.53 L345.44,419.16 L346.15,418.82 L346.85,418.41 L347.56,418.14 L348.27,417.68 L348.98,417.37 L349.69,417.03 L350.40,416.70 L351.10,416.61 L351.80,416.26 L352.50,416.22 L353.20,415.93 L353.90,415.83 L354.60,415.61 L355.30,415.45 L356.00,415.33 L356.70,415.10 L357.40,415.11 L358.10,415.09 L358.80,415.12 L359.50,415.15 L360.20,415.34 L360.90,415.33 L361.60,415.43 L362.30,415.41 L363.00,415.40 L363.78,414.99 L364.57,414.80 L365.35,414.51 L366.13,414.18 L366.92,413.82 L367.70,413.50 L368.42,413.57 L369.15,413.69 L369.87,413.86 L370.59,413.85 L371.32,414.01 L372.04,414.10 L372.76,414.29 L373.48,414.36 L374.21,414.49 L374.93,414.57 L375.65,414.56 L376.38,414.65 L377.10,414.80 L377.89,414.55 L378.68,414.25 L379.46,414.04 L380.25,413.84 L381.04,413.63 L381.82,413.32 L382.61,413.11 L383.40,412.80 L384.13,412.43 L384.87,412.20 L385.60,412.04 L386.33,411.58 L387.07,411.35 L387.80,410.99 L388.53,410.71 L389.27,410.59 L390.00,410.32 L390.73,409.96 L391.47,409.57 L392.20,409.32 L392.93,409.02 L393.67,408.82 L394.40,408.50 L395.17,408.52 L395.93,408.45 L396.70,408.45 L397.47,408.36 L398.23,408.42 L399.00,408.40 L399.71,408.67 L400.42,408.81 L401.13,408.85 L401.84,409.11 L402.56,409.33 L403.27,409.42 L403.98,409.72 L404.69,409.81 L405.40,410.00 L406.14,410.09 L406.87,410.09 L407.61,410.26 L408.34,410.27 L409.08,410.28 L409.81,410.25 L410.55,410.36 L411.28,410.33 L412.02,410.50 L412.75,410.61 L413.49,410.52 L414.22,410.64 L414.96,410.68 L415.69,410.72 L416.43,410.84 L417.16,410.93 L417.90,410.90 L418.62,410.96 L419.35,410.94 L420.07,411.06 L420.79,410.96 L421.52,411.06 L422.24,411.07 L422.96,411.11 L423.68,411.16 L424.41,411.05 L425.13,411.16 L425.85,411.13 L426.58,411.21 L427.30,411.20 L428.03,411.38 L428.76,411.40 L429.49,411.36 L430.22,411.53 L430.95,411.67 L431.68,411.78 L432.42,411.82 L433.15,411.94 L433.88,411.86 L434.61,412.13 L435.34,412.18 L436.07,412.24 L436.80,412.30 L437.57,412.11 L438.35,411.83 L439.12,411.40 L439.90,411.20 L440.67,410.76 L441.45,410.25 L442.23,409.64 L443.00,409.20 L443.80,409.35 L444.60,409.42 L445.40,409.44 L446.20,409.60 L446.97,410.19 L447.73,410.59 L448.50,411.20" fill="none" stroke="#e51e10" stroke-width="1.7" stroke-linejoin="round" stroke-linecap="butt" />
<path d="M448.50,411.20 L449.11,411.23 L449.72,410.60 L450.33,408.75 L450.94,408.17 L451.56,408.61 L452.17,407.86 L452.78,407.16 L453.39,406.04 L454.00,405.70 L454.61,405.33 L455.22,404.81 L455.83,404.25 L456.44,403.13 L457.06,402.99 L457.67,402.42 L458.28,402.36 L458.89,402.21 L459.50,401.00 L460.11,401.97 L460.72,401.75 L461.33,401.96 L461.94,402.05 L462.56,402.07 L463.17,402.41 L463.78,403.36 L464.39,403.50 L465.00,404.10 L465.63,404.28 L466.26,405.35 L466.89,405.19 L467.52,405.58 L468.15,405.48 L468.78,405.53 L469.41,406.31 L470.04,406.39 L470.67,407.26 L471.30,407.60 L471.92,408.54 L472.54,408.32 L473.16,407.87 L473.78,409.11 L474.40,408.80 L475.07,409.12 L475.74,408.93 L476.41,409.07 L477.09,408.77 L477.76,408.71 L478.43,408.00 L479.10,408.10 L479.71,408.02 L480.32,407.24 L480.93,405.36 L481.54,405.43 L482.16,404.62 L482.77,403.51 L483.38,402.85 L483.99,402.04 L484.60,401.30 L485.33,402.52 L486.05,402.55 L486.77,403.64 L487.50,403.80 L488.13,403.46 L488.76,404.07 L489.39,403.97 L490.02,403.22 L490.65,403.24 L491.28,403.60 L491.92,403.20 L492.55,402.74 L493.18,402.23 L493.81,402.25 L494.44,402.64 L495.07,401.76 L495.70,402.10 L496.33,402.23 L496.96,400.90 L497.59,401.36 L498.22,400.07 L498.85,400.54 L499.48,399.75 L500.11,399.03 L500.74,398.60 L501.37,398.35 L502.00,397.70 L502.75,398.42 L503.50,398.90 L504.10,397.94 L504.70,397.09 L505.30,396.82 L505.90,396.71 L506.50,395.57 L507.10,394.11 L507.70,394.45 L508.30,393.30 L508.92,393.50 L509.54,393.63 L510.16,392.51 L510.78,393.16 L511.40,392.70 L512.03,392.11 L512.66,392.97 L513.29,392.47 L513.92,392.44 L514.55,393.38 L515.18,392.33 L515.81,392.94 L516.44,393.44 L517.07,392.61 L517.70,393.00 L518.33,392.19 L518.96,392.73 L519.59,391.69 L520.22,391.70 L520.85,390.34 L521.48,390.41 L522.11,389.74 L522.74,390.04 L523.37,388.82 L524.00,389.00 L524.67,389.79 L525.34,388.65 L526.01,389.79 L526.69,388.96 L527.36,389.44 L528.03,390.38 L528.70,390.10 L529.35,389.96 L530.00,390.34 L530.65,391.39 L531.30,391.31 L531.95,391.17 L532.60,392.84 L533.25,392.00 L533.90,392.18 L534.55,392.96 L535.20,393.68 L535.85,394.20 L536.50,394.20 L537.17,393.37 L537.84,393.40 L538.51,392.69 L539.19,392.99 L539.86,393.14 L540.53,392.82 L541.20,392.20 L541.84,390.88 L542.48,388.80 L543.12,387.07 L543.76,384.97 L544.40,382.80 L545.07,382.98 L545.74,382.84 L546.41,383.67 L547.09,383.40 L547.76,383.31 L548.43,384.01 L549.10,384.30 L549.77,384.98 L550.44,384.09 L551.11,384.89 L551.79,384.78 L552.46,385.11 L553.13,384.74 L553.80,385.40 L554.47,386.34 L555.14,385.66 L555.81,386.45 L556.49,386.49 L557.16,386.23 L557.83,387.28 L558.50,387.50 L559.15,387.19 L559.80,387.26 L560.45,387.42 L561.10,387.79 L561.75,387.89 L562.40,388.84 L563.05,388.85 L563.70,389.71 L564.35,389.83 L565.00,390.11 L565.65,389.23 L566.30,389.80 L566.91,389.06 L567.52,388.13 L568.12,387.94 L568.73,387.33 L569.34,386.91 L569.95,386.12 L570.55,384.83 L571.16,384.40 L571.77,383.88 L572.38,382.49 L572.98,381.87 L573.59,381.73 L574.20,381.20 L574.85,380.61 L575.50,381.43 L576.15,380.71 L576.80,380.47 L577.45,380.55 L578.10,380.57 L578.75,380.51 L579.40,380.90 L580.05,380.78 L580.70,380.52 L581.35,380.94 L582.00,380.70 L582.61,380.57 L583.22,381.82 L583.82,382.18 L584.43,382.13 L585.04,381.99 L585.65,382.38 L586.25,382.75 L586.86,382.29 L587.47,383.08 L588.08,383.50 L588.68,383.30 L589.29,383.45 L589.90,384.30 L590.57,384.12 L591.24,382.91 L591.91,382.53 L592.59,382.49 L593.26,381.45 L593.93,380.41 L594.60,380.10 L595.22,381.16 L595.84,380.68 L596.46,380.57 L597.08,381.88 L597.70,382.00 L598.33,380.81 L598.96,380.47 L599.59,380.59 L600.22,379.83 L600.85,377.88 L601.48,378.12 L602.11,377.41 L602.74,376.93 L603.37,375.75 L604.00,375.70 L604.67,375.99 L605.34,375.08 L606.01,375.61 L606.69,375.90 L607.36,377.14 L608.03,375.54 L608.70,376.50 L609.37,378.06 L610.03,377.98 L610.70,379.79 L611.37,380.48 L612.03,381.68 L612.70,382.80 L613.47,381.74 L614.23,379.46 L615.00,378.10 L615.63,377.02 L616.26,376.70 L616.89,376.30 L617.52,377.52 L618.15,376.78 L618.78,377.10 L619.41,376.25 L620.04,374.59 L620.67,375.54 L621.30,374.90 L621.92,375.87 L622.54,376.19 L623.16,376.16 L623.78,376.30 L624.40,377.00 L625.03,376.47 L625.66,376.72 L626.29,375.22 L626.92,375.29 L627.55,374.76 L628.18,375.27 L628.81,374.53 L629.44,374.34 L630.07,373.71 L630.70,372.60 L631.33,371.61 L631.96,370.90 L632.59,370.84 L633.22,369.80 L633.85,369.56 L634.48,369.48 L635.11,369.38 L635.74,368.13 L636.37,368.02 L637.00,366.80 L637.61,365.78 L638.21,366.09 L638.82,367.16 L639.42,365.24 L640.03,365.57 L640.64,364.66 L641.24,364.48 L641.85,365.89 L642.46,365.86 L643.06,364.97 L643.67,363.72 L644.28,363.84 L644.88,363.50 L645.49,364.17 L646.09,363.97 L646.70,363.40 L647.36,362.60 L648.02,362.09 L648.68,360.58 L649.34,360.76 L650.00,360.00 L650.61,360.60 L651.22,359.91 L651.83,358.29 L652.44,358.83 L653.05,358.93 L653.65,357.71 L654.26,358.69 L654.87,357.52 L655.48,357.71 L656.09,356.81 L656.70,356.70 L657.40,358.19 L658.10,358.27 L658.80,358.35 L659.50,357.99 L660.20,359.08 L660.90,359.70 L661.52,358.07 L662.15,358.52 L662.77,358.40 L663.40,356.31 L664.02,356.28 L664.65,355.54 L665.27,354.70 L665.90,354.20 L666.50,354.69 L667.10,355.22 L667.70,354.83 L668.30,354.44 L668.90,355.49 L669.50,354.30 L670.10,355.20 L670.70,355.10 L671.30,355.38 L671.90,355.63 L672.50,355.00 L673.12,354.94 L673.75,356.23 L674.38,356.28 L675.00,357.30 L675.62,358.41 L676.25,358.22 L676.88,357.46 L677.50,358.86 L678.12,359.85 L678.75,360.68 L679.38,360.71 L680.00,360.90 L680.66,360.98 L681.31,358.82 L681.97,360.12 L682.62,359.14 L683.28,358.34 L683.93,358.38 L684.59,357.78 L685.24,355.66 L685.90,355.90 L686.54,356.95 L687.19,357.28 L687.83,356.57 L688.48,358.08 L689.12,358.18 L689.77,357.82 L690.41,359.46 L691.06,358.55 L691.70,359.70 L692.33,359.55 L692.95,358.82 L693.58,358.08 L694.20,358.33 L694.83,357.76 L695.45,356.86 L696.08,358.01 L696.70,356.70 L697.31,355.39 L697.92,354.80 L698.53,355.31 L699.14,355.56 L699.75,354.74 L700.35,354.48 L700.96,353.49 L701.57,353.41 L702.18,352.28 L702.79,351.69 L703.40,351.70 L704.01,351.32 L704.62,349.99 L705.23,349.71 L705.84,350.68 L706.45,349.14 L707.05,349.91 L707.66,349.60 L708.27,348.45 L708.88,348.61 L709.49,348.46 L710.10,347.50 L710.73,348.65 L711.35,347.62 L711.98,348.10 L712.60,349.20 L713.45,352.71 L714.30,356.70 L714.98,356.85 L715.67,356.72 L716.35,356.37 L717.03,357.68 L717.72,358.72 L718.40,358.00 L719.05,357.44 L719.69,357.49 L720.34,356.89 L720.98,356.72 L721.63,357.28 L722.28,355.86 L722.92,356.25 L723.57,355.63 L724.22,355.45 L724.86,355.91 L725.51,353.94 L726.15,355.14 L726.80,354.20 L727.46,353.31 L728.12,353.49 L728.78,353.29 L729.44,352.51 L730.10,351.70 L730.73,351.22 L731.35,351.86 L731.98,350.10 L732.60,350.92 L733.23,350.17 L733.85,350.19 L734.48,350.56 L735.10,350.20 L735.73,349.60 L736.35,348.69 L736.98,348.28 L737.60,348.47 L738.23,347.75 L738.85,347.58 L739.48,348.68 L740.10,347.50 L740.71,346.20 L741.32,347.08 L741.93,345.68 L742.54,345.12 L743.15,344.50 L743.75,343.49 L744.36,343.72 L744.97,342.61 L745.58,342.64 L746.19,341.81 L746.80,341.70 L747.40,342.30 L748.01,342.16 L748.61,341.01 L749.22,341.22 L749.82,341.60 L750.43,340.21 L751.03,339.56 L751.64,339.65 L752.24,339.36 L752.85,340.15 L753.45,339.35 L754.05,339.12 L754.66,339.81 L755.26,338.49 L755.87,339.45 L756.47,338.91 L757.08,338.26 L757.68,338.91 L758.29,337.76 L758.89,338.64 L759.50,338.54 L760.10,337.50 L760.72,337.28 L761.33,337.44 L761.95,337.73 L762.56,337.10 L763.18,336.90 L763.79,336.91 L764.41,336.82 L765.03,336.24 L765.64,336.47 L766.26,334.87 L766.87,335.31 L767.49,335.19 L768.11,334.36 L768.72,334.20 L769.34,333.53 L769.95,334.88 L770.57,333.45 L771.18,333.47 L771.80,333.30 L772.40,333.79 L773.00,332.09 L773.60,333.34 L774.20,331.38 L774.80,330.89 L775.40,331.24 L776.00,330.97 L776.60,331.79 L777.20,331.43 L777.80,330.89 L778.40,329.95 L779.00,329.87 L779.60,328.97 L780.20,329.20 L780.83,329.57 L781.45,328.38 L782.08,327.87 L782.70,328.28 L783.33,327.00 L783.95,327.03 L784.58,327.95 L785.20,325.99 L785.83,325.78 L786.45,325.61 L787.08,325.40 L787.70,325.44 L788.33,324.80 L788.95,324.69 L789.58,324.19 L790.20,324.40 L790.83,323.25 L791.45,323.37 L792.08,322.19 L792.71,321.64 L793.34,321.80 L793.96,319.76 L794.59,319.30 L795.22,320.08 L795.85,318.61 L796.47,318.68 L797.10,317.50 L797.71,316.46 L798.33,316.94 L798.94,317.28 L799.55,315.96 L800.17,316.51 L800.78,315.89 L801.39,315.16 L802.00,316.06 L802.62,314.55 L803.23,314.40 L803.84,314.39 L804.46,313.48 L805.07,314.22 L805.68,313.43 L806.30,313.11 L806.91,312.71 L807.52,313.30 L808.13,313.00 L808.75,312.40 L809.36,311.32 L809.97,310.93 L810.59,310.85 L811.20,310.50 L811.86,308.48 L812.53,307.49 L813.19,308.15 L813.85,305.31 L814.51,305.81 L815.17,304.18 L815.84,303.54 L816.50,301.60 L817.12,300.18 L817.75,300.07 L818.37,300.48 L818.99,298.34 L819.62,297.96 L820.24,297.88 L820.86,296.95 L821.49,296.33 L822.11,296.80 L822.74,295.08 L823.36,296.27 L823.98,295.05 L824.61,293.28 L825.23,294.41 L825.85,292.52 L826.48,292.43 L827.10,291.90 L827.73,292.15 L828.36,291.43 L828.99,292.29 L829.61,291.53 L830.24,291.94 L830.87,293.51 L831.50,293.44 L832.13,292.97 L832.76,293.42 L833.39,293.94 L834.01,292.59 L834.64,293.43 L835.27,292.83 L835.90,293.70 L836.52,292.52 L837.15,292.08 L837.77,291.87 L838.39,291.14 L839.02,291.04 L839.64,290.95 L840.26,291.02 L840.89,291.08 L841.51,290.75 L842.14,289.96 L842.76,289.12 L843.38,289.52 L844.01,287.60 L844.63,287.06 L845.25,288.07 L845.88,287.27 L846.50,286.60 L847.12,285.71 L847.75,285.73 L848.37,285.26 L848.99,285.21 L849.62,284.90 L850.24,284.53 L850.86,285.01 L851.49,284.73 L852.11,283.92 L852.74,283.43 L853.36,282.74 L853.98,283.39 L854.61,283.52 L855.23,281.69 L855.85,282.33 L856.48,282.01 L857.10,281.30 L857.74,280.86 L858.37,278.85 L859.01,279.13 L859.64,277.68 L860.28,276.90 L860.91,276.92 L861.55,276.29 L862.19,275.49 L862.82,274.97 L863.46,274.13 L864.09,272.92 L864.73,271.31 L865.36,272.00 L866.00,270.70 L866.70,270.11 L867.40,268.89 L868.10,267.18 L868.80,264.82 L869.50,264.50 L870.13,263.71 L870.76,263.35 L871.39,264.21 L872.01,263.85 L872.64,262.94 L873.27,264.30 L873.90,264.16 L874.53,263.81 L875.16,262.76 L875.79,262.23 L876.41,261.87 L877.04,262.92 L877.67,262.49 L878.30,261.90 L878.91,260.79 L879.51,261.38 L880.12,260.05 L880.72,259.08 L881.33,258.42 L881.94,258.37 L882.54,257.17 L883.15,256.92 L883.76,255.18 L884.36,255.68 L884.97,254.16 L885.58,254.77 L886.18,252.72 L886.79,252.29 L887.39,252.04 L888.00,251.30 L888.65,242.68 L889.30,234.50 L890.00,239.85 L890.70,245.10 L891.40,245.95 L892.10,244.50 L892.80,245.64 L893.50,245.49 L894.20,245.10 L894.86,244.46 L895.53,242.57 L896.19,241.37 L896.85,239.94 L897.51,238.98 L898.17,237.33 L898.84,235.99 L899.50,235.40 L900.12,235.00 L900.74,234.08 L901.36,234.29 L901.98,234.15 L902.60,233.27 L903.22,232.64 L903.84,233.16 L904.46,233.32 L905.08,231.69 L905.70,231.90 L906.33,230.10 L906.96,228.16 L907.59,226.58 L908.21,224.15 L908.84,221.37 L909.47,219.14 L910.10,217.70 L910.70,218.22 L911.30,217.00 L911.90,216.28 L912.50,217.84 L913.10,216.35 L913.70,216.80 L914.34,216.03 L914.97,215.64 L915.61,215.11 L916.25,215.65 L916.88,214.49 L917.52,214.28 L918.15,213.84 L918.79,214.27 L919.43,212.24 L920.06,212.96 L920.70,212.40 L921.42,210.60 L922.14,209.58 L922.86,209.43 L923.58,207.91 L924.30,207.10 L924.95,206.02 L925.60,206.85 L926.25,207.29 L926.90,206.54 L927.55,206.03 L928.20,206.43 L928.85,206.44 L929.50,205.40 L930.10,202.64 L930.70,200.87 L931.30,200.13 L931.90,197.99 L932.50,194.47 L933.10,193.00 L933.80,192.87 L934.50,192.67 L935.20,191.56 L935.90,191.24 L936.60,190.30 L937.26,188.47 L937.92,186.02 L938.59,184.10 L939.25,181.92 L939.91,181.26 L940.58,178.33 L941.24,177.42 L941.90,175.30 L942.56,173.98 L943.23,172.97 L943.89,172.94 L944.55,170.68 L945.21,169.75 L945.88,168.46 L946.54,167.03 L947.20,166.50 L947.89,166.16 L948.57,166.99 L949.26,167.78 L949.94,166.54 L950.63,168.46 L951.31,168.13 L952.00,168.00 L952.64,166.45 L953.28,167.09 L953.92,165.82 L954.56,165.39 L955.20,164.70 L956.05,167.90 L956.90,172.70 L957.53,170.32 L958.16,167.94 L958.79,166.06 L959.41,163.26 L960.04,161.11 L960.67,158.77 L961.30,155.90" fill="none" stroke="#e51e10" stroke-width="2.0" stroke-linejoin="round" stroke-linecap="butt" />
<path d="M190.60,436.00 L191.40,435.92 L192.21,436.01 L193.01,435.96 L193.81,436.03 L194.61,436.03 L195.42,435.86 L196.22,435.84 L197.02,436.09 L197.82,435.92 L198.63,435.91 L199.43,436.13 L200.23,435.97 L201.04,436.08 L201.84,435.97 L202.64,436.02 L203.44,435.87 L204.25,436.02 L205.05,436.09 L205.85,435.98 L206.65,436.05 L207.46,436.02 L208.26,435.84 L209.06,436.05 L209.86,435.99 L210.67,435.91 L211.47,435.82 L212.27,436.07 L213.08,435.95 L213.88,436.03 L214.68,436.07 L215.48,436.02 L216.29,436.08 L217.09,435.92 L217.89,436.04 L218.69,435.94 L219.50,436.08 L220.30,436.06 L221.10,435.83 L221.91,435.84 L222.71,435.86 L223.51,436.08 L224.31,435.92 L225.12,435.98 L225.92,435.88 L226.72,435.94 L227.52,435.90 L228.33,435.89 L229.13,435.96 L229.93,435.96 L230.74,436.05 L231.54,435.99 L232.34,436.06 L233.14,436.04 L233.95,436.07 L234.75,435.98 L235.55,435.82 L236.35,436.03 L237.16,436.06 L237.96,436.04 L238.76,435.94 L239.56,435.98 L240.37,435.83 L241.17,436.01 L241.97,435.94 L242.78,435.85 L243.58,435.78 L244.38,436.02 L245.18,436.06 L245.99,435.78 L246.79,436.00 L247.59,435.88 L248.39,435.80 L249.20,435.84 L250.00,435.90 L250.81,435.98 L251.61,436.00 L252.42,435.75 L253.23,435.92 L254.03,435.74 L254.84,435.94 L255.65,435.82 L256.45,435.98 L257.26,436.00 L258.06,435.85 L258.87,436.00 L259.68,435.78 L260.48,435.71 L261.29,435.86 L262.10,435.69 L262.90,435.73 L263.71,435.79 L264.52,435.85 L265.32,435.70 L266.13,435.67 L266.94,435.91 L267.74,435.74 L268.55,435.93 L269.35,435.90 L270.16,435.74 L270.97,435.76 L271.77,435.78 L272.58,435.81 L273.39,435.79 L274.19,435.77 L275.00,435.79 L275.81,435.88 L276.61,435.74 L277.42,435.71 L278.23,435.80 L279.03,435.65 L279.84,435.66 L280.65,435.86 L281.45,435.72 L282.26,435.72 L283.06,435.56 L283.87,435.67 L284.68,435.72 L285.48,435.54 L286.29,435.72 L287.10,435.72 L287.90,435.54 L288.71,435.71 L289.52,435.65 L290.32,435.71 L291.13,435.61 L291.94,435.71 L292.74,435.71 L293.55,435.50 L294.35,435.50 L295.16,435.68 L295.97,435.76 L296.77,435.54 L297.58,435.60 L298.39,435.64 L299.19,435.55 L300.00,435.60 L300.81,435.55 L301.62,435.53 L302.43,435.54 L303.23,435.59 L304.04,435.50 L304.85,435.51 L305.66,435.62 L306.47,435.39 L307.28,435.54 L308.09,435.59 L308.89,435.45 L309.70,435.41 L310.51,435.58 L311.32,435.40 L312.13,435.38 L312.94,435.44 L313.74,435.51 L314.55,435.33 L315.36,435.38 L316.17,435.38 L316.98,435.52 L317.79,435.39 L318.60,435.51 L319.40,435.30 L320.21,435.34 L321.02,435.42 L321.83,435.49 L322.64,435.35 L323.45,435.27 L324.26,435.23 L325.06,435.35 L325.87,435.23 L326.68,435.41 L327.49,435.41 L328.30,435.21 L329.11,435.23 L329.91,435.38 L330.72,435.32 L331.53,435.36 L332.34,435.21 L333.15,435.14 L333.96,435.18 L334.77,435.32 L335.57,435.16 L336.38,435.17 L337.19,435.18 L338.00,435.20 L338.81,435.17 L339.61,435.17 L340.42,435.32 L341.23,435.08 L342.03,435.03 L342.84,435.31 L343.65,435.29 L344.46,435.32 L345.26,435.15 L346.07,435.30 L346.88,435.29 L347.68,435.08 L348.49,435.23 L349.30,435.25 L350.10,435.20 L350.91,435.15 L351.72,435.08 L352.52,435.09 L353.33,435.05 L354.14,435.00 L354.94,435.15 L355.75,435.06 L356.56,435.21 L357.37,434.98 L358.17,435.23 L358.98,435.17 L359.79,435.23 L360.59,435.22 L361.40,435.10 L362.21,435.19 L363.02,435.06 L363.84,434.86 L364.65,435.04 L365.46,434.84 L366.27,434.84 L367.08,434.92 L367.90,434.85 L368.71,434.78 L369.52,434.90 L370.33,434.77 L371.14,434.66 L371.96,434.60 L372.77,434.75 L373.58,434.60 L374.39,434.66 L375.21,434.50 L376.02,434.42 L376.83,434.49 L377.64,434.54 L378.45,434.31 L379.27,434.47 L380.08,434.47 L380.89,434.41 L381.70,434.38 L382.51,434.10 L383.33,434.25 L384.14,434.29 L384.95,434.01 L385.76,434.05 L386.57,434.02 L387.39,434.06 L388.20,434.00 L389.01,433.98 L389.82,434.04 L390.63,433.77 L391.45,433.75 L392.26,433.74 L393.07,433.71 L393.88,433.66 L394.69,433.90 L395.51,433.83 L396.32,433.57 L397.13,433.66 L397.94,433.57 L398.76,433.54 L399.57,433.52 L400.38,433.57 L401.19,433.52 L402.00,433.42 L402.82,433.34 L403.63,433.35 L404.44,433.25 L405.25,433.35 L406.06,433.36 L406.88,433.23 L407.69,433.11 L408.50,433.20 L409.31,433.07 L410.12,433.09 L410.94,433.12 L411.75,433.14 L412.56,432.98 L413.37,433.07 L414.18,432.98 L415.00,432.89 L415.81,432.84 L416.62,432.84 L417.43,432.86 L418.24,432.74 L419.06,432.79 L419.87,432.68 L420.68,432.58 L421.49,432.63 L422.31,432.64 L423.12,432.42 L423.93,432.49 L424.74,432.45 L425.55,432.55 L426.37,432.53 L427.18,432.33 L427.99,432.45 L428.80,432.38 L429.61,432.19 L430.43,432.21 L431.24,432.07 L432.05,432.24 L432.86,432.16 L433.67,432.19 L434.49,432.13 L435.30,432.06 L436.11,432.04 L436.92,431.95 L437.73,431.78 L438.55,431.89 L439.36,431.68 L440.17,431.68 L440.98,431.83 L441.79,431.58 L442.61,431.56 L443.42,431.52 L444.23,431.72 L445.04,431.47 L445.86,431.39 L446.67,431.60 L447.48,431.35 L448.29,431.53 L449.10,431.44 L449.92,431.45 L450.73,431.45 L451.54,431.30 L452.35,431.33 L453.16,431.07 L453.98,431.25 L454.79,431.14 L455.60,431.10 L456.43,431.11 L457.25,430.87 L458.08,431.00 L458.91,431.00 L459.73,430.68 L460.56,430.70 L461.38,430.71 L462.21,430.74 L463.04,430.50 L463.86,430.42 L464.69,430.39 L465.52,430.44 L466.34,430.42 L467.17,430.26 L467.99,430.19 L468.82,430.14 L469.65,430.07 L470.47,430.03 L471.30,430.00 L472.17,429.77 L473.04,429.80 L473.91,429.84 L474.78,429.57 L475.65,429.57 L476.52,429.30 L477.39,429.36 L478.26,429.28 L479.13,429.15 L480.00,429.00 L480.83,428.87 L481.67,428.73 L482.50,428.64 L483.33,428.59 L484.17,428.23 L485.00,428.08 L485.83,428.14 L486.67,428.06 L487.50,427.81 L488.33,427.65 L489.17,427.60 L490.00,427.40 L490.82,427.18 L491.65,427.07 L492.47,426.92 L493.29,426.90 L494.12,426.69 L494.94,426.54 L495.76,426.54 L496.58,426.49 L497.41,426.16 L498.23,426.15 L499.05,425.94 L499.88,425.94 L500.70,425.73 L501.52,425.50 L502.35,425.35 L503.17,425.16 L503.99,425.17 L504.82,425.01 L505.64,424.82 L506.46,424.74 L507.28,424.60 L508.11,424.61 L508.93,424.29 L509.75,424.41 L510.58,424.12 L511.40,424.00 L512.21,423.88 L513.03,423.68 L513.84,423.64 L514.66,423.48 L515.47,423.25 L516.29,423.07 L517.10,422.99 L517.91,422.88 L518.73,422.59 L519.54,422.53 L520.36,422.45 L521.17,422.15 L521.99,421.92 L522.80,421.77 L523.61,421.76 L524.43,421.60 L525.24,421.53 L526.06,421.34 L526.87,421.00 L527.69,420.84 L528.50,420.70 L529.31,420.53 L530.13,420.53 L530.94,420.42 L531.76,420.28 L532.57,419.93 L533.39,419.96 L534.20,419.70 L535.06,419.76 L535.92,419.92 L536.78,420.13 L537.64,420.06 L538.50,420.18 L539.36,420.52 L540.22,420.48 L541.08,420.62 L541.94,420.80 L542.80,420.90 L543.61,420.91 L544.41,420.66 L545.22,420.72 L546.02,420.71 L546.83,420.68 L547.63,420.55 L548.44,420.62 L549.24,420.69 L550.05,420.47 L550.85,420.48 L551.66,420.31 L552.46,420.31 L553.27,420.38 L554.07,420.17 L554.88,420.36 L555.68,420.33 L556.49,420.04 L557.29,420.25 L558.10,420.03 L558.90,420.11 L559.71,420.06 L560.51,419.88 L561.32,419.95 L562.12,419.90 L562.93,419.90 L563.73,419.70 L564.54,419.80 L565.34,419.82 L566.15,419.69 L566.95,419.60 L567.76,419.43 L568.56,419.50 L569.37,419.42 L570.17,419.48 L570.98,419.43 L571.78,419.35 L572.59,419.19 L573.39,419.29 L574.20,419.20 L575.00,419.23 L575.80,419.09 L576.61,419.30 L577.41,419.23 L578.21,419.06 L579.01,419.30 L579.82,419.06 L580.62,419.11 L581.42,419.22 L582.22,419.18 L583.03,419.16 L583.83,419.19 L584.63,419.12 L585.43,419.08 L586.24,419.03 L587.04,418.99 L587.84,419.18 L588.64,419.19 L589.45,419.12 L590.25,419.17 L591.05,419.06 L591.85,419.02 L592.66,419.05 L593.46,419.19 L594.26,418.94 L595.06,419.07 L595.87,418.99 L596.67,419.14 L597.47,419.01 L598.27,419.00 L599.08,419.02 L599.88,419.06 L600.68,419.12 L601.48,418.99 L602.29,419.13 L603.09,418.91 L603.89,418.95 L604.69,418.89 L605.50,418.89 L606.30,419.09 L607.10,419.07 L607.90,418.90 L608.70,418.90 L609.51,418.96 L610.31,419.05 L611.11,419.07 L611.91,419.05 L612.72,418.99 L613.52,418.85 L614.32,418.93 L615.12,418.86 L615.93,418.95 L616.73,418.96 L617.53,418.85 L618.33,418.86 L619.14,419.01 L619.94,418.78 L620.74,419.01 L621.54,419.03 L622.35,419.04 L623.15,418.87 L623.95,418.91 L624.75,418.92 L625.56,418.93 L626.36,419.03 L627.16,418.93 L627.96,418.81 L628.77,418.98 L629.57,418.86 L630.37,418.89 L631.17,418.92 L631.98,418.70 L632.78,418.93 L633.58,418.89 L634.38,418.83 L635.19,418.84 L635.99,418.81 L636.79,418.73 L637.59,418.82 L638.40,418.67 L639.20,418.81 L640.00,418.80 L640.81,418.84 L641.62,418.77 L642.43,418.80 L643.24,418.91 L644.05,418.89 L644.86,418.66 L645.67,418.85 L646.48,418.79 L647.29,418.61 L648.10,418.70 L648.91,418.66 L649.72,418.60 L650.53,418.74 L651.34,418.85 L652.15,418.66 L652.96,418.82 L653.77,418.76 L654.58,418.59 L655.39,418.80 L656.20,418.72 L657.01,418.81 L657.82,418.74 L658.63,418.74 L659.44,418.62 L660.25,418.75 L661.06,418.78 L661.87,418.75 L662.68,418.62 L663.49,418.71 L664.30,418.62 L665.11,418.51 L665.92,418.48 L666.73,418.48 L667.54,418.52 L668.35,418.50 L669.16,418.59 L669.97,418.65 L670.78,418.59 L671.59,418.55 L672.40,418.62 L673.21,418.51 L674.02,418.55 L674.83,418.63 L675.64,418.52 L676.45,418.45 L677.26,418.66 L678.07,418.60 L678.88,418.49 L679.69,418.48 L680.50,418.52 L681.31,418.54 L682.12,418.42 L682.93,418.35 L683.74,418.40 L684.55,418.57 L685.36,418.37 L686.17,418.46 L686.98,418.38 L687.79,418.38 L688.60,418.36 L689.41,418.42 L690.22,418.35 L691.03,418.30 L691.84,418.32 L692.65,418.33 L693.46,418.42 L694.27,418.29 L695.08,418.27 L695.89,418.39 L696.70,418.40 L697.51,418.36 L698.32,418.44 L699.12,418.23 L699.93,418.32 L700.74,418.30 L701.55,418.18 L702.36,418.45 L703.16,418.21 L703.97,418.16 L704.78,418.26 L705.59,418.16 L706.40,418.28 L707.20,418.19 L708.01,418.11 L708.82,418.07 L709.63,418.26 L710.44,418.11 L711.25,418.25 L712.05,418.14 L712.86,418.27 L713.67,418.07 L714.48,418.04 L715.29,418.03 L716.09,418.18 L716.90,418.12 L717.71,418.02 L718.52,417.93 L719.33,418.09 L720.13,418.17 L720.94,418.04 L721.75,417.85 L722.56,417.85 L723.37,417.85 L724.17,417.86 L724.98,417.81 L725.79,417.80 L726.60,417.97 L727.41,418.03 L728.21,417.81 L729.02,418.03 L729.83,417.86 L730.64,417.95 L731.45,417.97 L732.25,417.96 L733.06,417.68 L733.87,417.75 L734.68,417.83 L735.49,417.91 L736.30,417.64 L737.10,417.69 L737.91,417.85 L738.72,417.61 L739.53,417.68 L740.34,417.65 L741.14,417.74 L741.95,417.81 L742.76,417.57 L743.57,417.72 L744.38,417.71 L745.18,417.73 L745.99,417.63 L746.80,417.60 L747.61,417.67 L748.43,417.45 L749.24,417.41 L750.06,417.30 L750.87,417.42 L751.69,417.27 L752.50,417.16 L753.32,417.07 L754.13,417.18 L754.95,417.10 L755.76,417.07 L756.58,416.92 L757.39,416.90 L758.20,416.74 L759.02,416.86 L759.83,416.60 L760.65,416.68 L761.46,416.71 L762.28,416.63 L763.09,416.41 L763.91,416.39 L764.72,416.52 L765.54,416.41 L766.35,416.43 L767.17,416.37 L767.98,416.19 L768.80,416.27 L769.61,416.17 L770.42,415.99 L771.24,415.95 L772.05,415.81 L772.87,415.85 L773.68,415.97 L774.50,415.66 L775.31,415.74 L776.13,415.55 L776.94,415.49 L777.76,415.61 L778.57,415.43 L779.39,415.32 L780.20,415.40 L781.02,414.95 L781.83,415.51 L782.65,415.40 L783.47,414.68 L784.28,414.91 L785.10,415.76 L785.92,414.83 L786.73,415.21 L787.55,415.00 L788.37,415.40 L789.18,415.16 L790.00,415.00 L790.83,415.35 L791.65,415.04 L792.48,414.63 L793.31,414.61 L794.14,414.49 L794.96,415.39 L795.79,414.54 L796.62,414.43 L797.45,415.56 L798.27,414.64 L799.10,415.47 L799.93,414.50 L800.75,414.96 L801.58,414.67 L802.41,415.40 L803.24,415.14 L804.06,415.17 L804.89,415.31 L805.72,415.45 L806.55,414.82 L807.37,415.12 L808.20,415.00 L809.02,414.91 L809.85,414.48 L810.67,415.32 L811.50,415.00 L812.32,415.24 L813.15,414.48 L813.97,414.86 L814.79,414.74 L815.62,415.03 L816.44,414.22 L817.27,414.52 L818.09,414.65 L818.92,414.13 L819.74,414.68 L820.56,414.87 L821.39,414.47 L822.21,414.71 L823.04,414.64 L823.86,414.14 L824.68,414.28 L825.51,415.02 L826.33,414.20 L827.16,414.29 L827.98,413.85 L828.81,413.98 L829.63,413.89 L830.45,414.78 L831.28,414.51 L832.10,414.66 L832.93,414.77 L833.75,414.29 L834.58,414.64 L835.40,414.10 L836.21,413.93 L837.02,413.58 L837.83,414.00 L838.64,413.74 L839.46,413.58 L840.27,412.81 L841.08,412.95 L841.89,412.30 L842.70,412.20 L843.53,412.88 L844.36,412.86 L845.19,412.19 L846.02,413.04 L846.85,412.22 L847.68,412.19 L848.50,413.02 L849.33,412.59 L850.16,412.94 L850.99,413.16 L851.82,412.52 L852.65,413.44 L853.48,412.96 L854.31,413.23 L855.14,413.20 L855.97,413.76 L856.80,413.84 L857.62,413.37 L858.45,413.23 L859.28,413.54 L860.11,413.76 L860.94,413.43 L861.77,413.60 L862.60,414.10 L863.52,414.10 L864.43,413.71 L865.35,413.72 L866.27,413.41 L867.18,412.97 L868.10,412.20 L868.92,412.17 L869.75,412.05 L870.57,412.36 L871.39,412.66 L872.21,412.87 L873.04,413.01 L873.86,412.92 L874.68,413.64 L875.50,413.09 L876.33,413.43 L877.15,414.06 L877.97,414.10 L878.80,413.61 L879.62,413.67 L880.44,414.48 L881.26,413.65 L882.09,413.92 L882.91,414.53 L883.73,414.66 L884.55,414.34 L885.38,414.33 L886.20,415.00 L887.12,414.18 L888.03,414.39 L888.95,413.56 L889.87,413.71 L890.78,413.01 L891.70,412.20 L892.52,413.08 L893.33,412.24 L894.14,412.72 L894.96,412.82 L895.78,413.62 L896.59,413.81 L897.40,413.76 L898.22,414.66 L899.04,414.41 L899.85,414.97 L900.66,415.20 L901.48,416.16 L902.30,416.00 L903.11,416.11 L903.92,416.15 L904.74,416.92 L905.56,417.45 L906.37,417.81 L907.18,418.40 L908.00,418.20 L908.84,418.67 L909.68,418.10 L910.52,418.06 L911.35,418.91 L912.19,419.05 L913.03,418.81 L913.87,419.30 L914.71,419.06 L915.55,418.84 L916.38,418.80 L917.22,418.72 L918.06,419.57 L918.90,419.50 L919.73,419.76 L920.55,419.55 L921.38,418.81 L922.21,418.83 L923.04,418.92 L923.86,418.57 L924.69,418.10 L925.52,417.65 L926.35,417.56 L927.17,416.92 L928.00,417.10 L928.90,416.29 L929.80,416.46 L930.70,416.40 L931.60,415.44 L932.50,414.85 L933.40,414.35 L934.30,414.10 L935.13,414.27 L935.97,414.91 L936.80,414.72 L937.63,415.55 L938.47,414.81 L939.30,415.23 L940.13,415.70 L940.97,415.79 L941.80,416.55 L942.63,416.74 L943.47,417.09 L944.30,416.80 L945.11,417.43 L945.92,417.24 L946.73,418.39 L947.54,418.86 L948.36,419.29 L949.17,419.54 L949.98,420.55 L950.79,421.29 L951.60,421.30 L952.43,421.04 L953.25,421.94 L954.08,421.80 L954.91,422.19 L955.74,422.87 L956.56,423.16 L957.39,423.00 L958.22,422.68 L959.05,423.77 L959.87,423.10 L960.70,423.70" fill="none" stroke="#000" stroke-width="1.4" stroke-linejoin="round" stroke-linecap="butt" />
<path d="M190.60,437.70 L191.30,437.65 L192.00,437.62 L192.70,437.68 L193.40,437.63 L194.10,437.61 L194.80,437.68 L195.50,437.78 L196.20,437.76 L196.90,437.75 L197.61,437.64 L198.31,437.70 L199.01,437.65 L199.71,437.63 L200.41,437.61 L201.11,437.64 L201.81,437.78 L202.51,437.76 L203.21,437.75 L203.91,437.75 L204.61,437.63 L205.31,437.65 L206.01,437.71 L206.71,437.73 L207.41,437.76 L208.11,437.76 L208.81,437.60 L209.51,437.71 L210.21,437.72 L210.91,437.69 L211.62,437.62 L212.32,437.68 L213.02,437.60 L213.72,437.77 L214.42,437.76 L215.12,437.69 L215.82,437.64 L216.52,437.76 L217.22,437.70 L217.92,437.76 L218.62,437.75 L219.32,437.68 L220.02,437.66 L220.72,437.70 L221.42,437.66 L222.12,437.61 L222.82,437.64 L223.52,437.74 L224.22,437.58 L224.92,437.58 L225.63,437.70 L226.33,437.63 L227.03,437.68 L227.73,437.67 L228.43,437.64 L229.13,437.77 L229.83,437.61 L230.53,437.65 L231.23,437.61 L231.93,437.70 L232.63,437.63 L233.33,437.64 L234.03,437.72 L234.73,437.63 L235.43,437.68 L236.13,437.75 L236.83,437.59 L237.53,437.58 L238.23,437.61 L238.93,437.72 L239.64,437.69 L240.34,437.61 L241.04,437.63 L241.74,437.60 L242.44,437.65 L243.14,437.57 L243.84,437.70 L244.54,437.74 L245.24,437.75 L245.94,437.71 L246.64,437.75 L247.34,437.56 L248.04,437.62 L248.74,437.75 L249.44,437.71 L250.14,437.64 L250.84,437.75 L251.54,437.68 L252.24,437.72 L252.94,437.61 L253.65,437.59 L254.35,437.64 L255.05,437.58 L255.75,437.63 L256.45,437.75 L257.15,437.62 L257.85,437.55 L258.55,437.56 L259.25,437.58 L259.95,437.71 L260.65,437.62 L261.35,437.61 L262.05,437.57 L262.75,437.74 L263.45,437.63 L264.15,437.59 L264.85,437.56 L265.55,437.56 L266.25,437.58 L266.95,437.68 L267.66,437.57 L268.36,437.55 L269.06,437.64 L269.76,437.59 L270.46,437.74 L271.16,437.57 L271.86,437.65 L272.56,437.70 L273.26,437.62 L273.96,437.74 L274.66,437.64 L275.36,437.59 L276.06,437.62 L276.76,437.55 L277.46,437.62 L278.16,437.59 L278.86,437.71 L279.56,437.70 L280.26,437.64 L280.96,437.54 L281.67,437.59 L282.37,437.58 L283.07,437.58 L283.77,437.58 L284.47,437.71 L285.17,437.56 L285.87,437.54 L286.57,437.72 L287.27,437.64 L287.97,437.73 L288.67,437.61 L289.37,437.71 L290.07,437.66 L290.77,437.69 L291.47,437.68 L292.17,437.63 L292.87,437.55 L293.57,437.57 L294.27,437.70 L294.97,437.71 L295.68,437.71 L296.38,437.59 L297.08,437.65 L297.78,437.68 L298.48,437.65 L299.18,437.69 L299.88,437.63 L300.58,437.65 L301.28,437.66 L301.98,437.57 L302.68,437.70 L303.38,437.71 L304.08,437.53 L304.78,437.71 L305.48,437.71 L306.18,437.65 L306.88,437.53 L307.58,437.70 L308.28,437.54 L308.98,437.71 L309.69,437.65 L310.39,437.53 L311.09,437.55 L311.79,437.64 L312.49,437.63 L313.19,437.66 L313.89,437.70 L314.59,437.55 L315.29,437.51 L315.99,437.69 L316.69,437.51 L317.39,437.68 L318.09,437.53 L318.79,437.67 L319.49,437.66 L320.19,437.68 L320.89,437.62 L321.59,437.68 L322.29,437.55 L322.99,437.64 L323.70,437.57 L324.40,437.68 L325.10,437.66 L325.80,437.60 L326.50,437.61 L327.20,437.51 L327.90,437.51 L328.60,437.62 L329.30,437.60 L330.00,437.60 L330.70,437.65 L331.40,437.57 L332.10,437.44 L332.80,437.46 L333.50,437.51 L334.20,437.44 L334.90,437.31 L335.60,437.45 L336.30,437.42 L337.00,437.24 L337.70,437.30 L338.40,437.24 L339.10,437.30 L339.80,437.17 L340.50,437.13 L341.20,437.15 L341.90,437.22 L342.60,437.10 L343.31,437.24 L344.02,437.46 L344.73,437.78 L345.44,438.05 L346.15,438.19 L346.85,438.40 L347.56,438.70 L348.27,438.90 L348.98,438.98 L349.69,439.36 L350.40,439.50 L351.14,439.53 L351.88,439.65 L352.61,439.85 L353.35,439.86 L354.09,440.03 L354.82,440.00 L355.56,440.23 L356.30,440.19 L357.04,440.27 L357.77,440.44 L358.51,440.50 L359.25,440.63 L359.99,440.80 L360.72,440.85 L361.46,440.81 L362.20,441.00 L362.99,442.65 L363.77,444.38 L364.56,446.05 L365.34,447.79 L366.13,449.43 L366.91,451.03 L367.70,452.80 L368.41,452.70 L369.12,452.77 L369.83,452.62 L370.54,452.65 L371.25,452.64 L371.96,452.52 L372.67,452.47 L373.38,452.41 L374.09,452.30 L374.80,452.37 L375.51,452.23 L376.22,452.26 L376.93,452.09 L377.64,452.15 L378.35,452.08 L379.05,452.00 L379.76,451.91 L380.47,451.80 L381.18,451.87 L381.89,451.74 L382.60,451.75 L383.31,451.59 L384.02,451.53 L384.73,451.49 L385.44,451.57 L386.15,451.39 L386.86,451.49 L387.57,451.33 L388.28,451.32 L388.99,451.22 L389.70,451.20 L390.48,449.39 L391.27,447.45 L392.05,445.68 L392.83,443.95 L393.62,441.97 L394.40,440.20 L395.17,440.16 L395.95,440.02 L396.73,439.94 L397.50,439.90 L398.28,441.44 L399.06,443.08 L399.84,444.91 L400.62,446.53 L401.40,448.10 L402.20,448.62 L403.00,449.08 L403.80,449.57 L404.60,449.87 L405.40,450.40 L406.18,450.17 L406.97,449.90 L407.75,449.66 L408.53,449.49 L409.32,449.20 L410.10,448.90 L410.88,447.82 L411.65,446.47 L412.43,445.41 L413.20,444.20 L413.98,445.61 L414.75,447.00 L415.52,448.35 L416.30,449.70 L417.10,449.55 L417.90,449.23 L418.70,449.14 L419.50,448.81 L420.30,448.64 L421.10,448.40 L421.88,448.54 L422.65,448.57 L423.43,448.55 L424.20,448.60 L424.98,448.68 L425.75,448.80 L426.53,448.94 L427.30,448.90 L428.04,449.00 L428.78,448.93 L429.51,448.96 L430.25,449.06 L430.99,448.98 L431.73,449.03 L432.46,448.98 L433.20,449.04 L433.94,449.13 L434.68,449.19 L435.41,449.20 L436.15,449.17 L436.89,449.32 L437.62,449.27 L438.36,449.21 L439.10,449.30 L439.90,452.91 L440.70,456.70 L441.42,456.73 L442.13,456.66 L442.85,456.58 L443.57,456.45 L444.28,456.33 L445.00,456.22 L445.72,456.18 L446.43,456.11 L447.15,456.19 L447.87,456.11 L448.58,456.02 L449.30,455.90 L450.10,455.53 L450.90,455.25 L451.70,454.96 L452.50,454.70 L453.27,453.84 L454.05,452.73 L454.83,451.91 L455.60,450.90 L456.38,451.25 L457.17,451.54 L457.95,451.94 L458.73,452.12 L459.52,452.49 L460.30,452.80 L461.07,452.45 L461.85,452.55 L462.62,452.65 L463.40,453.60 L464.27,452.44 L465.13,451.26 L466.00,451.00 L467.00,451.80 L468.00,454.00 L469.00,453.04 L470.00,450.50 L471.00,451.66 L472.00,453.50 L473.00,452.87 L474.00,451.00 L475.00,452.82 L476.00,454.00 L477.00,453.37 L478.00,452.00 L479.00,453.00 L480.00,453.50 L480.76,452.88 L481.52,451.43 L482.28,449.83 L483.04,448.24 L483.80,446.80 L484.60,449.71 L485.40,452.00 L486.17,452.49 L486.93,452.35 L487.70,452.40 L488.47,451.98 L489.23,453.22 L490.00,452.80 L490.71,452.56 L491.43,451.68 L492.14,451.63 L492.85,452.55 L493.56,451.35 L494.27,451.35 L494.99,451.60 L495.70,451.10 L496.42,451.79 L497.15,451.06 L497.87,451.27 L498.59,451.44 L499.32,450.92 L500.04,452.39 L500.76,451.14 L501.48,452.76 L502.21,451.58 L502.93,451.70 L503.65,452.93 L504.38,453.00 L505.10,452.60 L505.89,451.68 L506.68,451.71 L507.46,451.10 L508.25,451.00 L509.04,449.66 L509.82,450.20 L510.61,449.98 L511.40,448.70 L512.10,448.76 L512.80,448.84 L513.50,448.60 L514.20,447.44 L514.90,447.92 L515.60,447.63 L516.30,446.97 L517.00,445.94 L517.70,446.30 L518.48,447.75 L519.26,449.48 L520.04,449.77 L520.82,451.57 L521.60,452.60 L522.39,453.58 L523.17,453.45 L523.96,452.89 L524.74,454.18 L525.53,453.92 L526.31,455.23 L527.10,455.00 L527.82,455.54 L528.54,455.26 L529.25,456.48 L529.97,456.33 L530.69,456.15 L531.41,457.23 L532.13,457.60 L532.85,457.88 L533.56,458.15 L534.28,458.07 L535.00,458.10 L535.71,458.46 L536.42,458.36 L537.13,458.28 L537.84,459.06 L538.55,458.09 L539.25,457.70 L539.96,458.76 L540.67,458.46 L541.38,458.58 L542.09,458.71 L542.80,458.60 L543.50,457.80 L544.20,457.32 L544.90,456.71 L545.60,457.45 L546.30,457.25 L547.00,456.51 L547.70,455.19 L548.40,456.17 L549.10,455.00 L549.82,455.76 L550.55,455.49 L551.27,454.92 L551.99,456.50 L552.72,456.39 L553.44,456.63 L554.16,455.90 L554.88,457.28 L555.61,456.40 L556.33,457.35 L557.05,457.05 L557.78,457.64 L558.50,458.10 L559.21,459.02 L559.92,459.08 L560.63,459.48 L561.34,458.94 L562.05,459.38 L562.75,460.01 L563.46,459.39 L564.17,460.29 L564.88,461.48 L565.59,461.42 L566.30,461.30 L567.01,461.84 L567.73,460.91 L568.44,461.50 L569.15,461.62 L569.87,461.45 L570.58,460.98 L571.30,460.53 L572.01,460.24 L572.72,461.59 L573.44,461.63 L574.15,460.54 L574.86,461.27 L575.58,460.68 L576.29,460.99 L577.00,461.30 L577.72,460.43 L578.43,460.87 L579.15,460.26 L579.86,460.63 L580.57,459.82 L581.29,460.16 L582.00,460.50 L582.72,460.16 L583.44,461.17 L584.16,459.92 L584.88,460.93 L585.60,459.86 L586.32,461.30 L587.04,459.99 L587.76,459.88 L588.48,460.07 L589.20,461.23 L589.92,460.81 L590.64,461.17 L591.36,460.55 L592.08,459.94 L592.80,460.30 L593.52,460.49 L594.24,461.35 L594.96,460.04 L595.68,460.17 L596.40,461.13 L597.12,459.97 L597.84,461.34 L598.56,460.27 L599.28,460.70 L600.00,460.60 L600.82,460.94 L601.63,461.42 L602.45,460.17 L603.27,461.49 L604.08,460.50 L604.90,461.10 L605.65,460.82 L606.40,459.09 L607.15,459.65 L607.90,458.60 L608.72,457.94 L609.53,457.83 L610.35,457.41 L611.17,457.72 L611.98,457.58 L612.80,457.70 L613.50,459.42 L614.20,459.60 L614.20,460.70 L614.83,464.23 L615.37,459.60 L616.30,464.34 L617.09,461.74 L617.57,464.47 L618.37,460.87 L619.24,466.71 L619.79,459.39 L620.48,465.47 L621.20,460.01 L622.02,464.65 L622.85,459.11 L623.38,466.39 L623.95,460.61 L624.50,465.25 L625.12,460.02 L625.92,464.36 L626.47,459.98 L627.41,466.40 L627.88,459.54 L628.74,464.95 L629.65,460.39 L630.13,466.14 L630.93,460.10 L631.40,461.60 L631.40,465.53 L632.08,476.47 L632.76,464.30 L633.23,474.27 L634.04,465.75 L634.55,476.78 L635.28,468.20 L635.97,473.29 L636.68,464.53 L637.44,475.21 L638.19,467.33 L638.65,476.05 L639.50,464.31 L639.98,477.36 L640.57,465.84 L641.18,475.04 L641.72,465.38 L642.51,475.50 L643.50,477.80 L644.80,477.80 L645.10,466.00 L645.50,477.80 L646.23,478.32 L646.96,477.51 L647.69,477.60 L648.41,477.85 L649.14,477.85 L649.87,477.64 L650.60,477.80 L651.00,469.00 L651.40,477.80 L652.13,478.24 L652.87,477.44 L653.60,477.77 L654.33,477.34 L655.07,478.26 L655.80,477.91 L656.53,478.39 L657.27,477.37 L658.00,477.80 L658.40,464.00 L658.80,477.80 L659.51,478.05 L660.23,477.92 L660.94,477.26 L661.66,478.18 L662.37,478.25 L663.09,477.30 L663.80,477.80 L664.50,478.19 L665.20,477.86 L665.90,477.50 L666.60,477.28 L667.30,476.80 L668.00,476.41 L668.70,476.80 L669.45,476.81 L670.21,477.32 L670.96,476.57 L671.72,476.92 L672.47,476.73 L673.22,477.26 L673.98,477.62 L674.73,477.57 L675.48,476.89 L676.24,477.08 L676.99,476.63 L677.75,477.30 L678.50,477.30 L679.25,477.84 L680.01,477.94 L680.76,477.13 L681.52,477.68 L682.27,477.37 L683.02,477.90 L683.78,478.60 L684.53,477.96 L685.28,478.75 L686.04,479.00 L686.79,478.95 L687.55,478.33 L688.30,478.80 L689.04,479.30 L689.77,479.31 L690.51,479.40 L691.25,478.21 L691.99,478.20 L692.73,478.55 L693.46,478.82 L694.20,478.80 L694.95,480.66 L695.70,482.70 L696.42,482.18 L697.13,482.80 L697.85,482.80 L698.57,482.72 L699.28,482.55 L700.00,482.50 L700.73,482.16 L701.45,481.93 L702.17,480.78 L702.90,480.90 L703.65,481.45 L704.40,481.71 L705.15,482.30 L705.90,483.40 L706.63,483.96 L707.36,483.69 L708.09,483.96 L708.82,484.13 L709.55,484.75 L710.28,484.44 L711.01,485.32 L711.74,484.88 L712.47,486.20 L713.20,485.90 L713.94,485.28 L714.68,485.80 L715.43,485.33 L716.17,484.98 L716.91,484.62 L717.65,484.48 L718.39,484.75 L719.13,484.26 L719.88,484.07 L720.62,483.51 L721.36,483.76 L722.10,483.40 L722.83,483.63 L723.55,484.63 L724.27,485.46 L725.00,485.90 L725.74,485.56 L726.48,485.22 L727.22,484.81 L727.96,483.97 L728.70,484.50 L729.44,483.78 L730.18,483.44 L730.92,483.33 L731.66,482.33 L732.40,482.00 L733.14,481.51 L733.88,481.19 L734.61,480.92 L735.35,480.61 L736.09,480.34 L736.82,479.93 L737.56,479.97 L738.30,479.70 L739.03,479.17 L739.77,478.98 L740.50,479.05 L741.23,478.34 L741.97,478.72 L742.70,478.00 L742.70,479.75 L743.32,487.04 L743.86,475.57 L744.80,491.80 L745.26,480.16 L745.71,488.10 L746.44,476.33 L747.02,486.25 L747.66,476.44 L747.80,492.30 L748.54,492.28 L749.28,491.45 L750.02,490.91 L750.76,491.45 L751.50,490.80 L752.24,489.28 L752.98,488.19 L753.72,487.09 L754.46,487.23 L755.20,485.60 L755.95,487.02 L756.70,488.60 L757.44,489.32 L758.18,489.55 L758.92,490.49 L759.66,490.17 L760.40,490.80 L761.13,494.05 L761.87,497.89 L762.60,501.10 L763.33,500.29 L764.06,500.51 L764.79,500.77 L765.51,500.33 L766.24,500.02 L766.97,500.34 L767.70,499.60 L768.44,500.26 L769.18,501.35 L769.91,501.68 L770.65,502.05 L771.39,503.15 L772.12,503.68 L772.86,504.20 L773.60,505.50 L774.33,504.39 L775.07,503.35 L775.80,502.90 L776.53,502.39 L777.27,501.56 L778.00,500.40 L778.74,500.02 L779.48,498.51 L780.21,498.09 L780.95,497.52 L781.69,496.09 L782.42,495.87 L783.16,494.06 L783.90,493.70 L784.63,498.14 L785.37,502.02 L786.10,505.50 L786.90,495.90 L787.63,496.98 L788.37,497.30 L789.10,497.65 L789.83,497.82 L790.57,498.66 L791.30,498.90 L792.02,500.45 L792.75,501.19 L793.48,502.35 L794.20,503.30 L794.94,503.90 L795.68,503.22 L796.41,503.36 L797.15,503.09 L797.89,504.19 L798.62,503.98 L799.36,504.12 L800.10,504.00 L800.83,504.61 L801.55,505.47 L802.27,506.75 L803.00,507.70 L803.74,507.66 L804.49,506.55 L805.23,506.14 L805.98,505.65 L806.72,505.67 L807.47,504.32 L808.21,504.72 L808.96,503.20 L809.70,503.30 L810.43,506.97 L811.17,510.48 L811.90,513.60 L812.63,514.18 L813.37,515.12 L814.10,515.19 L814.83,515.64 L815.57,516.52 L816.30,517.30 L817.04,517.06 L817.78,517.64 L818.52,517.50 L819.26,517.65 L820.00,517.50 L820.79,518.31 L821.58,518.30 L822.36,518.56 L823.15,519.01 L823.94,519.20 L824.72,519.21 L825.51,518.98 L826.30,519.40 L826.70,528.50 L827.65,527.31 L828.60,526.10 L829.30,513.20 L829.40,544.90 L830.20,546.01 L831.00,546.84 L831.80,547.30 L832.40,561.00 L833.30,548.10 L834.10,548.85 L834.90,548.92 L835.70,548.90 L836.50,547.77 L837.30,545.94 L838.10,544.90 L838.85,533.30 L839.60,521.40 L840.40,513.77 L841.20,506.90 L842.00,514.33 L842.80,521.40 L843.20,551.20 L844.15,552.61 L845.10,554.80 L845.90,553.92 L846.70,554.75 L847.50,554.34 L848.30,553.60 L849.07,551.59 L849.85,549.50 L850.62,548.66 L851.40,546.50 L852.17,541.53 L852.95,535.49 L853.73,530.98 L854.50,525.30 L855.30,523.87 L856.10,521.72 L856.90,519.80 L858.10,512.80 L858.90,541.00 L859.60,547.70 L860.80,538.70 L861.60,532.93 L862.40,527.70 L863.17,526.10 L863.93,525.04 L864.70,524.50 L865.50,521.03 L866.30,517.97 L867.10,514.30 L867.90,506.90 L868.70,523.80 L869.48,524.34 L870.25,524.22 L871.02,525.28 L871.80,525.30 L872.60,596.00 L872.60,538.46 L874.00,590.96 L874.85,541.49 L876.42,589.90 L877.28,548.20 L878.44,581.68 L879.81,553.42 L881.49,587.15 L882.91,539.75 L883.99,592.77 L884.00,580.00 L885.10,568.50 L885.90,563.07 L886.70,558.29 L887.50,552.80 L888.30,541.45 L889.10,529.20 L890.00,526.46 L890.90,523.65 L891.80,521.40 L892.80,537.60 L893.80,554.40 L894.65,554.19 L895.50,554.00 L896.30,542.66 L897.10,531.60 L897.90,541.03 L898.70,551.50 L900.00,536.50 L900.80,568.90 L901.50,558.25 L902.20,546.93 L902.90,535.70 L904.10,541.50 L904.60,598.80 L905.40,600.50 L906.12,599.07 L906.85,597.16 L907.57,595.15 L908.30,593.00 L909.00,578.99 L909.70,564.44 L910.40,549.80 L911.23,545.85 L912.07,542.45 L912.90,538.20 L913.70,540.35 L914.50,541.50 L915.00,626.20 L915.80,629.08 L916.60,632.90 L917.43,633.57 L918.27,634.70 L919.10,636.20 L919.90,626.20 L920.90,595.30 L921.90,564.50 L921.90,565.59 L922.61,579.52 L923.25,561.93 L923.82,582.16 L924.41,555.09 L925.06,583.10 L925.95,558.51 L926.86,580.06 L927.39,564.54 L928.30,578.21 L929.10,559.78 L929.82,582.03 L930.57,557.32 L931.46,583.38 L931.95,558.75 L932.45,584.35 L932.95,561.49 L933.54,579.87 L934.37,557.30 L935.22,582.87 L935.81,566.16 L936.27,585.11 L937.02,556.99 L937.71,579.17 L938.10,570.00 L939.50,569.40 L940.70,613.00 L941.50,600.00 L941.50,566.89 L942.75,602.77 L944.87,560.07 L946.77,610.81 L947.84,560.64 L949.70,609.17 L951.33,559.60 L952.57,610.42 L954.18,568.29 L955.73,610.89 L957.79,566.66 L959.68,604.90 L961.00,562.00" fill="none" stroke="#0072b2" stroke-width="1.8" stroke-linejoin="round" stroke-linecap="butt" />
<line x1="493.10" y1="1127.00" x2="493.10" y2="1604.80" stroke="#000" stroke-width="1.3" stroke-dasharray="3.8,7.6"/>
<line x1="649.50" y1="992.00" x2="649.50" y2="1604.80" stroke="#000" stroke-width="1.3" stroke-dasharray="3.8,7.6"/>
<line x1="192.00" y1="1210.30" x2="479.70" y2="1210.30" stroke="#000" stroke-width="1.5" />
<polygon points="180.70,1210.30 203.30,1203.70 203.30,1216.90" fill="#000"/>
<polygon points="491.00,1210.30 468.40,1203.70 468.40,1216.90" fill="#000"/>
<line x1="508.15" y1="1209.80" x2="633.85" y2="1209.80" stroke="#000" stroke-width="1.5" />
<polygon points="496.40,1209.80 519.90,1203.20 519.90,1216.40" fill="#000"/>
<polygon points="645.60,1209.80 622.10,1203.20 622.10,1216.40" fill="#000"/>
<line x1="664.35" y1="1107.30" x2="976.75" y2="1107.30" stroke="#000" stroke-width="1.5" />
<polygon points="652.60,1107.30 676.10,1100.70 676.10,1113.90" fill="#000"/>
<polygon points="988.50,1107.30 965.00,1100.70 965.00,1113.90" fill="#000"/>
<line x1="289.60" y1="1605.00" x2="988.00" y2="1141.68" stroke="#000" stroke-width="1.6" stroke-dasharray="9.5,9.3"/>
<path d="M331.40,1604.80 L335.40,1599.30 L343.20,1583.60 L351.00,1563.20 L354.20,1558.50 L363.60,1545.90 L369.90,1534.20 L373.00,1531.80 L380.90,1526.30 L387.20,1519.20 L393.40,1508.30 L398.10,1497.30 L401.30,1493.80 L406.80,1499.60 L410.70,1504.30 L415.40,1505.90 L421.00,1505.60 L428.80,1500.90 L433.50,1494.60 L439.80,1482.00 L446.90,1465.60 L450.80,1466.30 L457.10,1465.60 L461.80,1461.30 L468.10,1465.60 L472.80,1466.80 L475.90,1468.70 L483.80,1460.10 L488.50,1452.20 L493.20,1445.90 L499.50,1425.50 L505.80,1411.40 L508.90,1412.20 L513.60,1409.00 L519.90,1407.90 L522.20,1410.60 L534.00,1408.30 L538.70,1399.60 L541.50,1400.50 L544.50,1396.50 L546.60,1399.60 L551.30,1402.00 L559.10,1401.30 L570.00,1401.00" fill="none" stroke="#000" stroke-width="2.3" stroke-linejoin="round" stroke-linecap="butt" />
<path d="M570.00,1401.00 L570.60,1401.45 L571.20,1401.46 L571.80,1400.84 L572.40,1400.42 L573.00,1399.93 L573.60,1401.01 L574.20,1400.64 L574.80,1401.09 L575.40,1400.39 L576.00,1401.02 L576.60,1400.13 L577.20,1400.99 L577.80,1400.82 L578.40,1400.24 L579.00,1400.41 L579.60,1400.30 L580.22,1400.55 L580.83,1399.65 L581.45,1400.20 L582.06,1400.57 L582.68,1399.59 L583.29,1400.44 L583.91,1400.18 L584.52,1400.39 L585.14,1399.46 L585.76,1398.98 L586.37,1400.12 L586.99,1400.07 L587.60,1399.39 L588.22,1398.73 L588.83,1398.85 L589.45,1399.53 L590.07,1398.88 L590.68,1399.94 L591.30,1399.26 L591.91,1398.54 L592.53,1399.25 L593.14,1398.69 L593.76,1399.60 L594.38,1399.50 L594.99,1398.76 L595.61,1398.92 L596.22,1398.95 L596.84,1399.07 L597.45,1399.30 L598.07,1397.62 L598.68,1398.13 L599.30,1398.30 L599.91,1398.37 L600.52,1397.76 L601.14,1398.14 L601.75,1397.19 L602.36,1398.43 L602.97,1397.72 L603.59,1396.93 L604.20,1397.75 L604.81,1397.05 L605.42,1396.75 L606.04,1397.14 L606.65,1396.45 L607.26,1396.47 L607.88,1397.48 L608.49,1397.09 L609.10,1395.82 L609.71,1397.02 L610.32,1395.62 L610.94,1396.06 L611.55,1396.93 L612.16,1396.34 L612.77,1395.70 L613.39,1395.72 L614.00,1395.64 L614.61,1395.09 L615.23,1396.47 L615.84,1394.76 L616.45,1395.28 L617.06,1395.73 L617.67,1395.03 L618.29,1395.92 L618.90,1395.00 L619.51,1394.38 L620.12,1395.45 L620.74,1395.11 L621.35,1394.55 L621.96,1394.74 L622.57,1393.80 L623.19,1394.27 L623.80,1394.03 L624.41,1393.37 L625.02,1393.11 L625.64,1393.32 L626.25,1392.63 L626.86,1391.90 L627.48,1392.84 L628.09,1391.84 L628.70,1392.03 L629.31,1392.35 L629.92,1391.12 L630.54,1390.68 L631.15,1390.67 L631.76,1391.28 L632.38,1390.71 L632.99,1390.35 L633.60,1390.49 L634.21,1391.12 L634.83,1389.79 L635.44,1389.87 L636.05,1390.48 L636.66,1389.84 L637.27,1389.07 L637.89,1389.24 L638.50,1389.10 L639.14,1388.83 L639.77,1388.03 L640.41,1388.20 L641.04,1387.85 L641.68,1388.47 L642.31,1387.42 L642.95,1387.76 L643.58,1388.07 L644.22,1387.75 L644.85,1386.60 L645.49,1386.75 L646.12,1386.04 L646.76,1385.94 L647.39,1385.87 L648.03,1386.16 L648.66,1386.17 L649.30,1385.20 L649.93,1384.52 L650.56,1383.72 L651.19,1384.15 L651.81,1383.16 L652.44,1382.79 L653.07,1383.74 L653.70,1382.29 L654.33,1383.00 L654.96,1382.07 L655.59,1382.73 L656.21,1382.27 L656.84,1380.60 L657.47,1380.50 L658.10,1380.70 L658.72,1381.14 L659.33,1380.26 L659.95,1379.61 L660.56,1379.90 L661.18,1379.64 L661.79,1378.77 L662.41,1378.42 L663.02,1377.47 L663.64,1377.60 L664.26,1376.91 L664.87,1377.41 L665.49,1377.06 L666.10,1375.95 L666.72,1376.46 L667.33,1375.23 L667.95,1374.93 L668.57,1375.53 L669.18,1374.90 L669.80,1375.32 L670.41,1374.54 L671.03,1374.35 L671.64,1373.05 L672.26,1373.93 L672.88,1372.34 L673.49,1372.93 L674.11,1373.11 L674.72,1372.79 L675.34,1372.44 L675.95,1371.37 L676.57,1371.47 L677.18,1371.31 L677.80,1370.50 L678.41,1369.48 L679.02,1370.45 L679.64,1369.99 L680.25,1368.80 L680.86,1368.97 L681.47,1368.01 L682.09,1367.32 L682.70,1367.66 L683.31,1366.16 L683.92,1367.01 L684.54,1366.91 L685.15,1365.34 L685.76,1366.05 L686.38,1364.19 L686.99,1365.11 L687.60,1363.73 L688.21,1364.49 L688.82,1363.18 L689.44,1363.62 L690.05,1361.70 L690.66,1361.40 L691.27,1362.24 L691.89,1361.54 L692.50,1360.96 L693.11,1359.71 L693.73,1359.54 L694.34,1359.48 L694.95,1358.54 L695.56,1359.74 L696.17,1358.95 L696.79,1358.86 L697.40,1357.70 L698.01,1357.53 L698.62,1356.42 L699.24,1355.45 L699.85,1356.06 L700.46,1354.50 L701.07,1354.72 L701.69,1354.07 L702.30,1353.62 L702.91,1352.39 L703.52,1351.88 L704.14,1352.13 L704.75,1350.79 L705.36,1351.12 L705.98,1349.97 L706.59,1349.69 L707.20,1348.96 L707.81,1349.16 L708.42,1348.34 L709.04,1347.55 L709.65,1347.04 L710.26,1347.11 L710.88,1347.19 L711.49,1345.85 L712.10,1344.90 L712.71,1344.65 L713.33,1344.01 L713.94,1344.07 L714.55,1343.92 L715.16,1343.05 L715.77,1341.89 L716.39,1341.61 L717.00,1341.40 L717.61,1340.76 L718.23,1340.42 L718.84,1339.90 L719.45,1340.48 L720.06,1339.28 L720.67,1339.03 L721.29,1338.68 L721.90,1338.12 L722.51,1337.95 L723.12,1336.78 L723.74,1336.84 L724.35,1336.92 L724.96,1335.10 L725.58,1335.44 L726.19,1334.59 L726.80,1333.60 L727.41,1333.13 L728.02,1333.91 L728.64,1332.37 L729.25,1332.95 L729.86,1331.47 L730.48,1331.48 L731.09,1330.47 L731.70,1330.90 L732.31,1330.87 L732.93,1329.48 L733.54,1329.61 L734.15,1329.78 L734.76,1328.27 L735.38,1328.13 L735.99,1328.12 L736.60,1327.30 L737.21,1327.48 L737.82,1325.85 L738.43,1326.25 L739.04,1324.89 L739.65,1324.44 L740.25,1325.48 L740.86,1323.45 L741.47,1324.49 L742.08,1323.76 L742.69,1323.19 L743.30,1322.84 L743.91,1322.27 L744.52,1321.21 L745.13,1321.03 L745.74,1320.18 L746.35,1320.86 L746.95,1320.28 L747.56,1319.85 L748.17,1318.44 L748.78,1318.64 L749.39,1317.62 L750.00,1317.60 L750.61,1317.63 L751.21,1317.09 L751.82,1317.06 L752.42,1316.11 L753.03,1315.60 L753.63,1315.30 L754.24,1313.68 L754.84,1314.07 L755.45,1312.65 L756.05,1312.76 L756.66,1311.87 L757.26,1312.82 L757.87,1310.80 L758.47,1311.85 L759.08,1311.44 L759.68,1310.11 L760.29,1310.32 L760.89,1308.53 L761.50,1308.22 L762.10,1307.54 L762.71,1307.17 L763.31,1306.60 L763.92,1307.54 L764.52,1305.82 L765.13,1306.22 L765.73,1305.21 L766.34,1304.51 L766.94,1304.54 L767.55,1303.67 L768.15,1304.57 L768.76,1303.09 L769.36,1302.99 L769.97,1302.48 L770.57,1302.12 L771.18,1301.41 L771.78,1300.59 L772.39,1299.91 L772.99,1300.72 L773.60,1299.60 L774.20,1298.65 L774.81,1298.67 L775.41,1298.85 L776.01,1298.04 L776.61,1298.25 L777.22,1297.59 L777.82,1296.66 L778.42,1295.57 L779.02,1295.95 L779.63,1295.32 L780.23,1295.56 L780.83,1294.58 L781.43,1294.43 L782.04,1294.21 L782.64,1293.20 L783.24,1293.41 L783.84,1293.09 L784.45,1291.40 L785.05,1292.27 L785.65,1291.77 L786.25,1291.32 L786.86,1290.02 L787.46,1289.45 L788.06,1288.82 L788.66,1288.80 L789.27,1289.20 L789.87,1287.94 L790.47,1286.91 L791.07,1287.00 L791.68,1286.20 L792.28,1286.69 L792.88,1286.52 L793.48,1286.36 L794.09,1284.52 L794.69,1284.59 L795.29,1283.73 L795.89,1284.64 L796.50,1284.10 L797.10,1283.10 L797.71,1282.71 L798.31,1283.03 L798.92,1281.87 L799.52,1281.88 L800.13,1280.96 L800.73,1280.33 L801.34,1280.98 L801.94,1280.30 L802.55,1279.45 L803.15,1279.49 L803.76,1278.70 L804.36,1278.53 L804.97,1276.86 L805.57,1276.55 L806.18,1276.09 L806.78,1276.51 L807.39,1276.28 L807.99,1274.90 L808.60,1275.07 L809.20,1273.98 L809.81,1274.53 L810.41,1274.27 L811.02,1272.67 L811.62,1273.76 L812.23,1272.80 L812.83,1271.46 L813.44,1271.42 L814.04,1270.67 L814.65,1271.22 L815.25,1271.12 L815.86,1269.43 L816.46,1269.02 L817.07,1269.36 L817.67,1269.33 L818.28,1268.70 L818.88,1267.80 L819.49,1266.78 L820.09,1267.22 L820.70,1266.60 L821.30,1266.10 L821.91,1266.27 L822.51,1265.45 L823.11,1265.31 L823.71,1265.29 L824.32,1264.28 L824.92,1264.34 L825.52,1262.83 L826.12,1261.94 L826.73,1263.02 L827.33,1261.15 L827.93,1262.36 L828.53,1261.02 L829.14,1259.93 L829.74,1259.87 L830.34,1260.21 L830.94,1259.21 L831.55,1259.20 L832.15,1257.88 L832.75,1258.71 L833.35,1257.50 L833.96,1257.86 L834.56,1256.27 L835.16,1256.73 L835.76,1255.97 L836.37,1255.44 L836.97,1254.36 L837.57,1254.81 L838.17,1254.91 L838.78,1253.23 L839.38,1253.39 L839.98,1252.23 L840.58,1253.48 L841.19,1253.01 L841.79,1252.10 L842.39,1251.34 L842.99,1250.22 L843.60,1249.88 L844.20,1250.10 L844.81,1250.03 L845.41,1249.75 L846.02,1249.66 L846.62,1249.02 L847.23,1247.88 L847.83,1247.15 L848.44,1247.21 L849.04,1246.45 L849.65,1246.37 L850.25,1246.52 L850.86,1245.37 L851.46,1245.84 L852.07,1244.97 L852.67,1243.40 L853.28,1244.17 L853.88,1243.61 L854.49,1243.12 L855.09,1241.64 L855.70,1242.71 L856.30,1241.63 L856.91,1241.28 L857.51,1240.23 L858.12,1239.58 L858.72,1239.12 L859.33,1239.03 L859.93,1238.77 L860.54,1238.09 L861.14,1237.50 L861.75,1238.22 L862.35,1237.75 L862.96,1237.63 L863.56,1236.08 L864.17,1236.53 L864.77,1235.88 L865.38,1234.60 L865.98,1235.51 L866.59,1234.20 L867.19,1233.49 L867.80,1233.60 L868.42,1232.63 L869.03,1233.46 L869.65,1231.83 L870.26,1231.68 L870.88,1231.52 L871.49,1230.77 L872.11,1230.84 L872.73,1229.45 L873.34,1229.60 L873.96,1229.43 L874.57,1229.05 L875.19,1228.61 L875.81,1227.60 L876.42,1227.79 L877.04,1227.93 L877.65,1226.66 L878.27,1226.51 L878.88,1226.40 L879.50,1225.40 L880.11,1224.67 L880.72,1224.39 L881.33,1225.28 L881.94,1223.83 L882.56,1223.74 L883.17,1223.34 L883.78,1224.09 L884.39,1223.02 L885.00,1223.31 L885.61,1221.75 L886.22,1221.64 L886.83,1221.97 L887.44,1221.09 L888.06,1221.37 L888.67,1220.80 L889.28,1219.76 L889.89,1219.51 L890.50,1219.76 L891.11,1219.62 L891.72,1218.70 L892.33,1218.54 L892.94,1217.79 L893.56,1217.93 L894.17,1217.70 L894.78,1217.53 L895.39,1217.57 L896.00,1217.10 L896.65,1216.95 L897.29,1215.98 L897.94,1215.27 L898.58,1213.75 L899.23,1213.37 L899.87,1213.01 L900.52,1212.55 L901.16,1210.70 L901.81,1209.57 L902.45,1208.88 L903.10,1208.90 L903.73,1209.01 L904.35,1209.69 L904.98,1208.55 L905.61,1209.70 L906.23,1209.54 L906.86,1210.00 L907.49,1210.14 L908.11,1208.87 L908.74,1210.12 L909.37,1209.08 L909.99,1209.13 L910.62,1209.69 L911.25,1209.92 L911.87,1209.29 L912.50,1210.10 L913.15,1209.18 L913.79,1208.48 L914.44,1207.87 L915.08,1207.27 L915.73,1206.61 L916.37,1206.40 L917.02,1206.05 L917.66,1205.67 L918.31,1205.60 L918.95,1204.93 L919.60,1204.20 L920.21,1203.92 L920.83,1203.39 L921.44,1203.63 L922.05,1202.65 L922.67,1202.37 L923.28,1202.00 L923.89,1202.69 L924.50,1201.53 L925.12,1201.42 L925.73,1201.38 L926.34,1201.49 L926.96,1201.37 L927.57,1201.02 L928.18,1200.77 L928.80,1199.83 L929.41,1200.80 L930.02,1200.24 L930.63,1199.42 L931.25,1199.15 L931.86,1199.20 L932.47,1198.17 L933.09,1198.80 L933.70,1198.30 L934.37,1199.16 L935.04,1198.41 L935.71,1198.81 L936.39,1198.57 L937.06,1199.85 L937.73,1199.12 L938.40,1199.50 L939.05,1198.19 L939.69,1197.72 L940.34,1196.07 L940.98,1195.90 L941.63,1193.99 L942.27,1193.21 L942.92,1191.66 L943.56,1191.07 L944.21,1189.80 L944.85,1188.10 L945.50,1187.70 L946.17,1188.80 L946.84,1188.01 L947.51,1189.16 L948.19,1189.77 L948.86,1189.86 L949.53,1190.06 L950.20,1190.80 L950.84,1190.33 L951.47,1190.87 L952.11,1188.80 L952.75,1189.89 L953.38,1189.03 L954.02,1188.42 L954.65,1188.30 L955.29,1187.91 L955.93,1187.84 L956.56,1187.70 L957.20,1186.50 L957.85,1186.85 L958.49,1186.90 L959.14,1187.25 L959.78,1188.51 L960.43,1188.10 L961.07,1187.73 L961.72,1188.94 L962.36,1188.46 L963.01,1189.18 L963.65,1190.03 L964.30,1190.10 L964.96,1190.47 L965.61,1190.52 L966.27,1191.19 L966.92,1191.00 L967.58,1191.79 L968.23,1191.70 L968.89,1190.94 L969.54,1192.00 L970.20,1191.70" fill="none" stroke="#000" stroke-width="2.5" stroke-linejoin="round" stroke-linecap="butt" />
<rect x="178.40" y="128.00" width="800.40" height="616.00" fill="none" stroke="#000" stroke-width="2.3"/>
<rect x="180.40" y="982.70" width="807.60" height="622.30" fill="none" stroke="#000" stroke-width="2.3"/>
<text x="-1.00" y="56.20" font-size="45" text-anchor="start" >(a)</text>
<text transform="translate(579.00,31.20) scale(1,0.95)" x="0" y="0" font-size="45" text-anchor="middle" >irradiation time [s]</text>
<text x="200.60" y="98.70" font-size="45" text-anchor="middle" >0.001</text>
<text x="355.46" y="98.70" font-size="45" text-anchor="middle" >0.01</text>
<text x="510.32" y="98.70" font-size="45" text-anchor="middle" >0.1</text>
<text x="666.78" y="98.70" font-size="45" text-anchor="middle" >1</text>
<text x="821.64" y="98.70" font-size="45" text-anchor="middle" >10</text>
<text x="976.50" y="98.70" font-size="45" text-anchor="middle" >100</text>
<text x="152.00" y="187.80" font-size="45" text-anchor="end" >30</text>
<text x="152.00" y="275.80" font-size="45" text-anchor="end" >20</text>
<text x="152.00" y="363.80" font-size="45" text-anchor="end" >10</text>
<text x="152.00" y="451.80" font-size="45" text-anchor="end" >0</text>
<text x="152.00" y="539.80" font-size="45" text-anchor="end" >-10</text>
<text x="152.00" y="627.80" font-size="45" text-anchor="end" >-20</text>
<text x="152.00" y="715.80" font-size="45" text-anchor="end" >-30</text>
<text x="139.18" y="809.50" font-size="45" text-anchor="start" >10</text>
<text x="184.18" y="787.60" font-size="36" text-anchor="start" >19</text>
<text x="294.04" y="809.50" font-size="45" text-anchor="start" >10</text>
<text x="339.04" y="787.60" font-size="36" text-anchor="start" >20</text>
<text x="448.90" y="809.50" font-size="45" text-anchor="start" >10</text>
<text x="493.90" y="787.60" font-size="36" text-anchor="start" >21</text>
<text x="603.76" y="809.50" font-size="45" text-anchor="start" >10</text>
<text x="648.76" y="787.60" font-size="36" text-anchor="start" >22</text>
<text x="758.62" y="809.50" font-size="45" text-anchor="start" >10</text>
<text x="803.62" y="787.60" font-size="36" text-anchor="start" >23</text>
<text x="913.48" y="809.50" font-size="45" text-anchor="start" >10</text>
<text x="958.48" y="787.60" font-size="36" text-anchor="start" >24</text>
<text font-size="45" transform="translate(44.2,437.6) rotate(-90)" text-anchor="middle" x="0" y="0">height [nm]</text>
<text transform="translate(392.50,177.70) scale(1,0.95)" x="0" y="0" font-size="45" text-anchor="end" >max(h)</text>
<line x1="420.10" y1="161.90" x2="538.90" y2="161.90" stroke="#e51e10" stroke-width="1.3" />
<text transform="translate(392.50,222.60) scale(1,0.95)" x="0" y="0" font-size="45" text-anchor="end" >mean(h)</text>
<line x1="420.10" y1="206.80" x2="538.90" y2="206.80" stroke="#000" stroke-width="1.3" />
<text transform="translate(392.50,267.10) scale(1,0.95)" x="0" y="0" font-size="45" text-anchor="end" >min(h)</text>
<line x1="420.10" y1="251.30" x2="538.90" y2="251.30" stroke="#0072b2" stroke-width="1.3" />
<text x="-0.50" y="910.00" font-size="45" text-anchor="start" >(b)</text>
<text transform="translate(583.50,885.30) scale(1,0.95)" x="0" y="0" font-size="45" text-anchor="middle" >irradiation time [s]</text>
<text x="202.30" y="952.00" font-size="45" text-anchor="middle" >0.001</text>
<text x="358.60" y="952.00" font-size="45" text-anchor="middle" >0.01</text>
<text x="514.90" y="952.00" font-size="45" text-anchor="middle" >0.1</text>
<text x="672.80" y="952.00" font-size="45" text-anchor="middle" >1</text>
<text x="829.10" y="952.00" font-size="45" text-anchor="middle" >10</text>
<text x="985.40" y="952.00" font-size="45" text-anchor="middle" >100</text>
<text x="153.00" y="980.40" font-size="36" text-anchor="end" >2</text>
<text x="135.00" y="1002.30" font-size="45" text-anchor="end" >10</text>
<text x="153.00" y="1187.83" font-size="36" text-anchor="end" >1</text>
<text x="135.00" y="1209.73" font-size="45" text-anchor="end" >10</text>
<text x="153.00" y="1395.26" font-size="36" text-anchor="end" >0</text>
<text x="135.00" y="1417.16" font-size="45" text-anchor="end" >10</text>
<text x="153.00" y="1602.69" font-size="36" text-anchor="end" >-1</text>
<text x="123.01" y="1624.59" font-size="45" text-anchor="end" >10</text>
<text x="141.60" y="1669.50" font-size="45" text-anchor="start" >10</text>
<text x="186.60" y="1648.80" font-size="36" text-anchor="start" >19</text>
<text x="297.68" y="1669.50" font-size="45" text-anchor="start" >10</text>
<text x="342.68" y="1648.80" font-size="36" text-anchor="start" >20</text>
<text x="453.76" y="1669.50" font-size="45" text-anchor="start" >10</text>
<text x="498.76" y="1648.80" font-size="36" text-anchor="start" >21</text>
<text x="609.84" y="1669.50" font-size="45" text-anchor="start" >10</text>
<text x="654.84" y="1648.80" font-size="36" text-anchor="start" >22</text>
<text x="765.92" y="1669.50" font-size="45" text-anchor="start" >10</text>
<text x="810.92" y="1648.80" font-size="36" text-anchor="start" >23</text>
<text x="922.00" y="1669.50" font-size="45" text-anchor="start" >10</text>
<text x="967.00" y="1648.80" font-size="36" text-anchor="start" >24</text>
<text font-size="45" transform="translate(44.2,1294.3) rotate(-90)" text-anchor="middle" x="0" y="0">height [nm]</text>
<text transform="translate(465.00,1736.20) scale(1,0.95)" x="0" y="0" font-size="45" text-anchor="start" >fluence [m</text>
<text x="660.15" y="1715.50" font-size="36" text-anchor="start" >-2</text>
<text transform="translate(687.74,1736.20) scale(1,0.95)" x="0" y="0" font-size="45" text-anchor="start" >]</text>
<text x="364.72" y="1051.80" font-size="45" text-anchor="end" >SD(h)</text>
<text transform="translate(201.12,1101.00) scale(1,0.95)" x="0" y="0" font-size="45" text-anchor="start" >(fluence)</text>
<text x="365.13" y="1077.70" font-size="36" text-anchor="start" >1/2</text>
<line x1="437.30" y1="1036.20" x2="556.90" y2="1036.20" stroke="#000" stroke-width="2.8" />
<line x1="437.30" y1="1081.50" x2="556.90" y2="1081.50" stroke="#000" stroke-width="1.6" stroke-dasharray="9.4,9.2"/>
<text transform="translate(257.15,1191.60) scale(1,0.95)" x="0" y="0" font-size="37.4" text-anchor="start" >retention</text>
<text transform="translate(515.30,1191.60) scale(1,0.95)" x="0" y="0" font-size="37.4" text-anchor="start" >bursting</text>
<text transform="translate(757.79,1097.10) scale(1,0.95)" x="0" y="0" font-size="37.4" text-anchor="start" >growth</text>
</svg></body></html>
